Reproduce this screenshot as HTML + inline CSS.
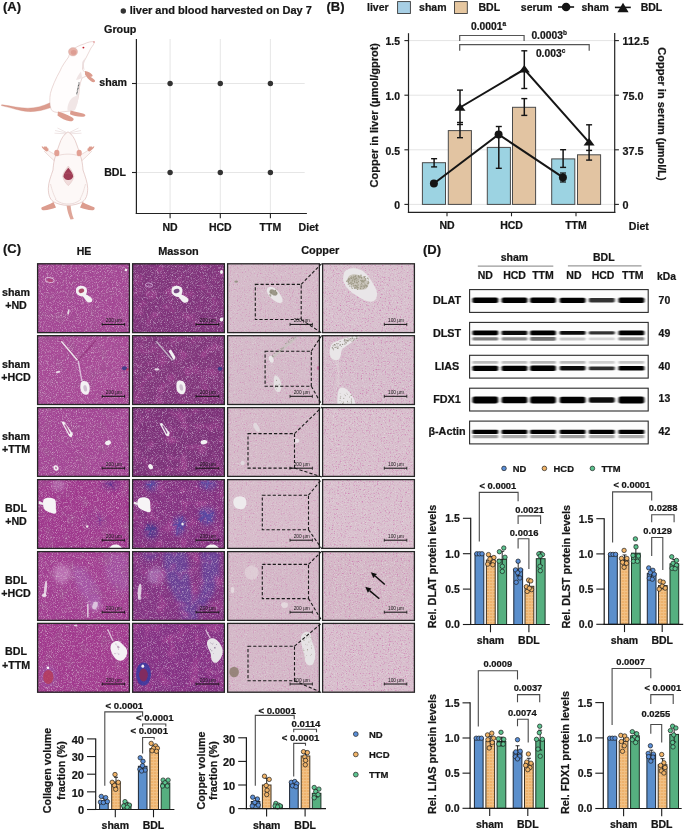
<!DOCTYPE html>
<html><head><meta charset="utf-8"><style>
html,body{margin:0;padding:0;background:#fff;width:685px;height:831px;overflow:hidden}
svg{display:block;will-change:transform}
text{font-family:"Liberation Sans",sans-serif} text[font-weight=bold]{stroke:#151515;stroke-width:0.22px;paint-order:stroke}
</style></head><body>
<svg width="685" height="831" viewBox="0 0 685 831">
<rect width="685" height="831" fill="#fff"/>
<text x="3" y="10.8" font-size="13" text-anchor="start" font-weight="bold" fill="#151515" >(A)</text>
<circle cx="123.3" cy="11" r="2.7" fill="#333"/>
<text x="129.7" y="14.4" font-size="11" text-anchor="start" font-weight="bold" fill="#151515" >liver and blood harvested on Day 7</text>
<text x="104" y="32.8" font-size="10.8" text-anchor="start" font-weight="bold" fill="#151515" >Group</text>
<line x1="170.1" y1="39" x2="170.1" y2="213.5" stroke="#e3e3e3" stroke-width="0.9" />
<line x1="220.3" y1="39" x2="220.3" y2="213.5" stroke="#e3e3e3" stroke-width="0.9" />
<line x1="270.4" y1="39" x2="270.4" y2="213.5" stroke="#e3e3e3" stroke-width="0.9" />
<line x1="136.4" y1="83.5" x2="304.7" y2="83.5" stroke="#e3e3e3" stroke-width="0.9" />
<line x1="136.4" y1="172.5" x2="304.7" y2="172.5" stroke="#e3e3e3" stroke-width="0.9" />
<line x1="136.4" y1="39" x2="136.4" y2="214.1" stroke="#222" stroke-width="1.2" />
<line x1="135.8" y1="213.5" x2="306.9" y2="213.5" stroke="#222" stroke-width="1.2" />
<line x1="132" y1="83.5" x2="136.4" y2="83.5" stroke="#222" stroke-width="1.1" />
<line x1="132" y1="172.5" x2="136.4" y2="172.5" stroke="#222" stroke-width="1.1" />
<line x1="170.1" y1="213.5" x2="170.1" y2="218.2" stroke="#222" stroke-width="1.1" />
<line x1="220.3" y1="213.5" x2="220.3" y2="218.2" stroke="#222" stroke-width="1.1" />
<line x1="270.4" y1="213.5" x2="270.4" y2="218.2" stroke="#222" stroke-width="1.1" />
<circle cx="170.1" cy="83.5" r="2.7" fill="#333"/>
<circle cx="170.1" cy="172.5" r="2.7" fill="#333"/>
<circle cx="220.3" cy="83.5" r="2.7" fill="#333"/>
<circle cx="220.3" cy="172.5" r="2.7" fill="#333"/>
<circle cx="270.4" cy="83.5" r="2.7" fill="#333"/>
<circle cx="270.4" cy="172.5" r="2.7" fill="#333"/>
<text x="127" y="86.3" font-size="10.6" text-anchor="end" font-weight="bold" fill="#151515" >sham</text>
<text x="126" y="175.8" font-size="10.6" text-anchor="end" font-weight="bold" fill="#151515" >BDL</text>
<text x="170.1" y="231" font-size="10.5" text-anchor="middle" font-weight="bold" fill="#151515" >ND</text>
<text x="220.3" y="231" font-size="10.5" text-anchor="middle" font-weight="bold" fill="#151515" >HCD</text>
<text x="270.4" y="231" font-size="10.5" text-anchor="middle" font-weight="bold" fill="#151515" >TTM</text>
<text x="298.6" y="231" font-size="10.6" text-anchor="start" font-weight="bold" fill="#151515" >Diet</text>
<path d="M51,107.5 C44,110 36,112 28,111.6 C20,111 12,108 1.5,105.6 C1,105 1.5,104.6 2.5,104.8 C12,106.2 19,108 27.5,108.2 C36,108.3 43,106 50,102.8 Z" fill="#dc9c8e" stroke="#cf8c7e" stroke-width="0.35"/>
<path d="M94.2,41.6 C91,41.5 88,42 84,44 C80,45 76,47 72,50 C70,53 69,55 68.6,57 C65,62 62,66 60,71 C56,78 52,87 50.4,93.4 C49.5,99 49.5,104 51.1,109.5 C53,112 56,112.5 58.4,112.4 L70,111 C73,109 75.5,106 76.5,103 C78,99 78.8,96 79.2,90 C79.5,86 80.5,82 82,78 C84,77 86,76.5 87.6,75 C86,73 83,71 82.5,69 C82.5,65 83.5,62 85,59.8 C87,56 89,52 91,48 C93,45.5 94.5,43.5 94.2,41.6 Z" fill="#fffdfd" stroke="#d6b2ae" stroke-width="0.5"/>
<path d="M78.5,95 C78.5,101 77,106 75,110 C72.5,111.5 69.5,111.5 67.5,110.5 C67,106 69,101 72,98 C74,96.5 76.5,95.5 78.5,95 Z" fill="#f1e6e6"/>
<path d="M81,71.5 C79,74 77,77 76,80 C78,80 80.5,79 82,77.5 Z" fill="#f0e4e4"/>
<path d="M85,58 C84,62 83.5,66 84.5,70 C83,69.5 82,66 82.3,62 Z" fill="#ecdede"/>
<ellipse cx="73" cy="51.8" rx="4.6" ry="4.2" fill="#e7b2a8" stroke="#d6b2ae" stroke-width="0.4"/>
<ellipse cx="73.6" cy="52.4" rx="2.7" ry="2.4" fill="#de9d93"/>
<circle cx="83.4" cy="47.6" r="0.95" fill="#c41f2c"/>
<circle cx="94" cy="42" r="0.8" fill="#e38c8c"/>
<path d="M85,71 C88,71.5 90.5,72.5 92,74.5 C93.5,76 92,77.5 90,76.5 C92,78 94,79 95,80.5 C95.6,82.3 93,82.8 91,81.3 C88.5,79.5 86.5,77 85,74.5 Z" fill="#dc9c8e"/>
<path d="M58,111.5 C62,112.5 67,114.5 71.5,117 C75,118.8 74,121.6 70,121.2 C65.5,120.8 61,118.5 57.5,115.5 Z" fill="#dc9c8e"/>
<path d="M70.5,110.5 C74,111.5 79,112.5 83,113.5 C86.8,114.5 86,117 81.5,116.8 C77,116.5 73,115.8 70,114.2 Z" fill="#dc9c8e"/>
<path d="M79.2,82.5 L76.6,95" stroke="#555" stroke-width="1.3" stroke-dasharray="0.8,0.6"/>
<path d="M55,130.5 L66.5,133 M57.5,128 L66.5,132.5 M81,130.5 L69.5,133 M78.5,128 L69.5,132.5 M54.5,133.2 L66,133.8 M81.5,133.2 L70,133.8" stroke="#dcc4c4" stroke-width="0.45" fill="none"/>
<path d="M56.5,155.5 C53,153.5 49.5,151.5 46.5,149.5 L44.5,151.5 C47.5,154.5 51,158 54.5,161 Z" fill="#fcf5f4" stroke="#d6b2ae" stroke-width="0.45"/>
<path d="M79.5,155.5 C83,153.5 86.5,151.5 89.5,149.5 L91.5,151.5 C88.5,154.5 85,158 81.5,161 Z" fill="#fcf5f4" stroke="#d6b2ae" stroke-width="0.45"/>
<path d="M46.5,151.5 C44,150 42,148.5 41.6,146.6 C42.6,146.2 43.5,146.8 44,147.8 C44,146.3 45,145.7 45.8,146.8 C46.5,146.2 47.4,147 47.4,148.3 C48.6,148 49,149 48,151 Z" fill="#dc9c8e"/>
<path d="M89.5,151.5 C92,150 94,148.5 94.4,146.6 C93.4,146.2 92.5,146.8 92,147.8 C92,146.3 91,145.7 90.2,146.8 C89.5,146.2 88.6,147 88.6,148.3 C87.4,148 87,149 88,151 Z" fill="#dc9c8e"/>
<path d="M53.5,202 C49.5,204.5 45,206 41.8,207.2 C40.6,208.5 41.8,210.5 44,210.3 C48,210 52.5,209 56,207.5 Z" fill="#dc9c8e"/>
<path d="M82.5,202 C86.5,204.5 91,206 94.2,207.2 C95.4,208.5 94.2,210.5 92,210.3 C88,210 83.5,209 80,207.5 Z" fill="#dc9c8e"/>
<path d="M66.6,205.5 C67.2,210.5 68.5,215 70.5,219.5 L73.8,219 C72,214.5 71,210 70.6,205.5 Z" fill="#dc9c8e" opacity="0.9"/>
<path d="M68,131.8 C64,134 61,139 59.5,144 C58,148 57,151 56,155 C54.5,158 53.5,163 53,170 C51,176 48.5,182 48.3,188.3 C48.3,195 50,199 53,201.5 C57,204 63,205.4 68,205.4 C73,205.4 79,204 83,201.5 C86,199 87.7,195 87.7,188.3 C87.5,182 85,176 83,170 C82.5,163 81.5,158 80,155 C79,151 78,148 76.5,144 C75,139 72,134 68,131.8 Z" fill="#fdf8f7" stroke="#d6b2ae" stroke-width="0.6"/>
<path d="M57.5,156 C62,153.5 74,153.5 78.5,156" stroke="#e8d4d2" stroke-width="0.8" fill="none"/>
<path d="M50.5,184 C52,190 54,196 56,199 M85.5,184 C84,190 82,196 80,199" stroke="#ead8d6" stroke-width="0.8" fill="none"/>
<path d="M55,199 C59,203 64,204 68,204 C72,204 77,203 81,199" stroke="#e6d2d0" stroke-width="0.8" fill="none"/>
<ellipse cx="56.8" cy="153" rx="2.6" ry="3.2" fill="#e2a094"/>
<ellipse cx="79.2" cy="153" rx="2.6" ry="3.2" fill="#e2a094"/>
<path d="M68.3,166 C71,169.5 73.9,173.5 73.9,176.5 C73,180.5 70.5,183.5 68.3,185.7 C66,183.5 63.5,180.5 62.7,176.5 C62.7,173.5 65.5,169.5 68.3,166 Z" fill="#f1dcdc" stroke="#d9b9b7" stroke-width="0.4"/>
<path d="M68.3,167.8 C70.8,170.8 73.2,174 73.2,176.8 C72.3,179 70.3,180.2 68.3,180 C66.3,180.2 64.3,179 63.4,176.8 C63.4,174 65.8,170.8 68.3,167.8 Z" fill="#9e3c54"/>
<path d="M65,174 C67,172.5 70,172.5 72,174.5" stroke="#b85a70" stroke-width="0.5" fill="none"/>
<text x="326.5" y="10.5" font-size="13" text-anchor="start" font-weight="bold" fill="#151515" >(B)</text>
<text x="367" y="10.8" font-size="10.5" text-anchor="start" font-weight="bold" fill="#151515" >liver</text>
<rect x="397.6" y="1.6" width="12.8" height="11.9" fill="#a7cfe5" stroke="#3a3a3a" stroke-width="0.9"/>
<text x="419.1" y="10.8" font-size="10.5" text-anchor="start" font-weight="bold" fill="#151515" >sham</text>
<rect x="454.5" y="1.6" width="12.8" height="11.9" fill="#e6c7a0" stroke="#3a3a3a" stroke-width="0.9"/>
<text x="478.5" y="10.8" font-size="10.5" text-anchor="start" font-weight="bold" fill="#151515" >BDL</text>
<text x="520.8" y="10.8" font-size="10.5" text-anchor="start" font-weight="bold" fill="#151515" >serum</text>
<line x1="558" y1="7" x2="574.1" y2="7" stroke="#151515" stroke-width="1.6" />
<circle cx="566.1" cy="7" r="4.3" fill="#151515"/>
<text x="581.4" y="10.8" font-size="10.5" text-anchor="start" font-weight="bold" fill="#151515" >sham</text>
<line x1="614.9" y1="7.4" x2="630.8" y2="7.4" stroke="#151515" stroke-width="1.6" />
<path d="M623,2.8 L628.6,12.2 L617.4,12.2 Z" fill="#151515"/>
<text x="640.7" y="10.6" font-size="10.5" text-anchor="start" font-weight="bold" fill="#151515" >BDL</text>
<line x1="408.5" y1="204.4" x2="614.7" y2="204.4" stroke="#e4e4e4" stroke-width="1.0" />
<line x1="408.5" y1="149.8" x2="614.7" y2="149.8" stroke="#e4e4e4" stroke-width="1.0" />
<line x1="408.5" y1="95.2" x2="614.7" y2="95.2" stroke="#e4e4e4" stroke-width="1.0" />
<line x1="408.5" y1="40.599999999999994" x2="614.7" y2="40.599999999999994" stroke="#e4e4e4" stroke-width="1.0" />
<line x1="408.5" y1="33.2" x2="408.5" y2="213" stroke="#222" stroke-width="1.2" />
<line x1="614.7" y1="33.1" x2="614.7" y2="213" stroke="#222" stroke-width="1.2" />
<line x1="407.9" y1="212.4" x2="615.3" y2="212.4" stroke="#222" stroke-width="1.2" />
<line x1="404.4" y1="204.4" x2="408.5" y2="204.4" stroke="#222" stroke-width="1.1" />
<line x1="614.7" y1="204.4" x2="618.9" y2="204.4" stroke="#222" stroke-width="1.1" />
<text x="400" y="209.20000000000002" font-size="10.4" text-anchor="end" font-weight="bold" fill="#151515" >0</text>
<text x="622.6" y="209.1" font-size="10.8" text-anchor="start" font-weight="bold" fill="#151515" >0</text>
<line x1="404.4" y1="149.8" x2="408.5" y2="149.8" stroke="#222" stroke-width="1.1" />
<line x1="614.7" y1="149.8" x2="618.9" y2="149.8" stroke="#222" stroke-width="1.1" />
<text x="400" y="154.60000000000002" font-size="10.4" text-anchor="end" font-weight="bold" fill="#151515" >0.5</text>
<text x="622.6" y="154.5" font-size="10.8" text-anchor="start" font-weight="bold" fill="#151515" >37.5</text>
<line x1="404.4" y1="95.2" x2="408.5" y2="95.2" stroke="#222" stroke-width="1.1" />
<line x1="614.7" y1="95.2" x2="618.9" y2="95.2" stroke="#222" stroke-width="1.1" />
<text x="400" y="100.0" font-size="10.4" text-anchor="end" font-weight="bold" fill="#151515" >1.0</text>
<text x="622.6" y="99.9" font-size="10.8" text-anchor="start" font-weight="bold" fill="#151515" >75.0</text>
<line x1="404.4" y1="40.599999999999994" x2="408.5" y2="40.599999999999994" stroke="#222" stroke-width="1.1" />
<line x1="614.7" y1="40.599999999999994" x2="618.9" y2="40.599999999999994" stroke="#222" stroke-width="1.1" />
<text x="400" y="45.39999999999999" font-size="10.4" text-anchor="end" font-weight="bold" fill="#151515" >1.5</text>
<text x="622.6" y="45.3" font-size="10.8" text-anchor="start" font-weight="bold" fill="#151515" >112.5</text>
<line x1="447" y1="212.4" x2="447" y2="216.3" stroke="#222" stroke-width="1.1" />
<text x="447" y="228.8" font-size="10.5" text-anchor="middle" font-weight="bold" fill="#151515" >ND</text>
<line x1="511.5" y1="212.4" x2="511.5" y2="216.3" stroke="#222" stroke-width="1.1" />
<text x="511.5" y="228.8" font-size="10.5" text-anchor="middle" font-weight="bold" fill="#151515" >HCD</text>
<line x1="576" y1="212.4" x2="576" y2="216.3" stroke="#222" stroke-width="1.1" />
<text x="576" y="228.8" font-size="10.5" text-anchor="middle" font-weight="bold" fill="#151515" >TTM</text>
<text x="628.8" y="229.5" font-size="10.6" text-anchor="start" font-weight="bold" fill="#151515" >Diet</text>
<text transform="translate(378.2,115.2) rotate(-90)" font-size="11" text-anchor="middle" font-weight="bold" fill="#151515">Copper in liver (µmol/gprot)</text>
<text transform="translate(657.5,47.3) rotate(90)" font-size="11" text-anchor="start" font-weight="bold" fill="#151515">Copper in serum (µmol/L)</text>
<rect x="422.4" y="162.7" width="23.1" height="41.70000000000002" fill="#9cd3e2" stroke="#4a4a4a" stroke-width="1"/>
<rect x="448.3" y="130.6" width="23.1" height="73.80000000000001" fill="#e2c4a2" stroke="#4a4a4a" stroke-width="1"/>
<rect x="487.3" y="147.4" width="23.1" height="57.0" fill="#9cd3e2" stroke="#4a4a4a" stroke-width="1"/>
<rect x="512.5" y="107.3" width="23.1" height="97.10000000000001" fill="#e2c4a2" stroke="#4a4a4a" stroke-width="1"/>
<rect x="551.7" y="158.9" width="23.1" height="45.5" fill="#9cd3e2" stroke="#4a4a4a" stroke-width="1"/>
<rect x="577.5" y="154.8" width="23.1" height="49.599999999999994" fill="#e2c4a2" stroke="#4a4a4a" stroke-width="1"/>
<line x1="434.1" y1="158.7" x2="434.1" y2="166.9" stroke="#151515" stroke-width="1.5" />
<line x1="431.1" y1="158.7" x2="437.1" y2="158.7" stroke="#151515" stroke-width="1.4" />
<line x1="431.1" y1="166.9" x2="437.1" y2="166.9" stroke="#151515" stroke-width="1.4" />
<line x1="460" y1="90.1" x2="460" y2="137.7" stroke="#151515" stroke-width="1.5" />
<line x1="457.0" y1="90.1" x2="463.0" y2="90.1" stroke="#151515" stroke-width="1.4" />
<line x1="457.0" y1="122.5" x2="463.0" y2="122.5" stroke="#151515" stroke-width="1.4" />
<line x1="457.0" y1="124.5" x2="463.0" y2="124.5" stroke="#151515" stroke-width="1.4" />
<line x1="457.0" y1="137.7" x2="463.0" y2="137.7" stroke="#151515" stroke-width="1.4" />
<line x1="498.8" y1="126.5" x2="498.8" y2="168.3" stroke="#151515" stroke-width="1.5" />
<line x1="495.8" y1="126.5" x2="501.8" y2="126.5" stroke="#151515" stroke-width="1.4" />
<line x1="495.8" y1="168.3" x2="501.8" y2="168.3" stroke="#151515" stroke-width="1.4" />
<line x1="524.3" y1="50.8" x2="524.3" y2="88.5" stroke="#151515" stroke-width="1.5" />
<line x1="521.3" y1="50.8" x2="527.3" y2="50.8" stroke="#151515" stroke-width="1.4" />
<line x1="521.3" y1="88.5" x2="527.3" y2="88.5" stroke="#151515" stroke-width="1.4" />
<line x1="524.3" y1="98.6" x2="524.3" y2="115.4" stroke="#151515" stroke-width="1.5" />
<line x1="521.3" y1="98.6" x2="527.3" y2="98.6" stroke="#151515" stroke-width="1.4" />
<line x1="521.3" y1="115.4" x2="527.3" y2="115.4" stroke="#151515" stroke-width="1.4" />
<line x1="563.1" y1="149.7" x2="563.1" y2="167.4" stroke="#151515" stroke-width="1.5" />
<line x1="560.1" y1="149.7" x2="566.1" y2="149.7" stroke="#151515" stroke-width="1.4" />
<line x1="560.1" y1="167.4" x2="566.1" y2="167.4" stroke="#151515" stroke-width="1.4" />
<line x1="589.1" y1="124.8" x2="589.1" y2="160.1" stroke="#151515" stroke-width="1.5" />
<line x1="586.1" y1="124.8" x2="592.1" y2="124.8" stroke="#151515" stroke-width="1.4" />
<line x1="586.1" y1="150.4" x2="592.1" y2="150.4" stroke="#151515" stroke-width="1.4" />
<line x1="586.1" y1="160.1" x2="592.1" y2="160.1" stroke="#151515" stroke-width="1.4" />
<polyline points="433.9,183.5 498.6,134.4 562.9,177.4" fill="none" stroke="#151515" stroke-width="2"/>
<polyline points="460,107.5 524.3,69.3 589.1,142.3" fill="none" stroke="#151515" stroke-width="2"/>
<circle cx="433.9" cy="183.5" r="4" fill="#151515"/>
<circle cx="498.6" cy="134.4" r="4" fill="#151515"/>
<circle cx="562.9" cy="177.4" r="4" fill="#151515"/>
<line x1="562.9" y1="173" x2="562.9" y2="182" stroke="#151515" stroke-width="1.4" />
<line x1="560" y1="173" x2="566" y2="173" stroke="#151515" stroke-width="1.2" />
<line x1="560" y1="182" x2="566" y2="182" stroke="#151515" stroke-width="1.2" />
<path d="M460,103.2 L465.5,110.8 L454.5,110.8 Z" fill="#151515"/>
<path d="M524.3,65.0 L529.8,72.6 L518.8,72.6 Z" fill="#151515"/>
<path d="M589.1,138.0 L594.6,145.6 L583.6,145.6 Z" fill="#151515"/>
<path d="M459.7,41 L459.7,35.5 L524.1,35.5 L524.1,41" fill="none" stroke="#555" stroke-width="1.2"/>
<path d="M459.7,50.7 L459.7,44.7 L589.2,44.7 L589.2,50.7" fill="none" stroke="#555" stroke-width="1.2"/>
<text x="471" y="29.7" font-size="10.3" text-anchor="start" font-weight="bold" fill="#151515" >0.0001<tspan font-size="6.5" dy="-4">a</tspan></text>
<text x="531.4" y="38.9" font-size="10.3" text-anchor="start" font-weight="bold" fill="#151515" >0.0003<tspan font-size="6.5" dy="-4">b</tspan></text>
<text x="535.9" y="57.3" font-size="10.3" text-anchor="start" font-weight="bold" fill="#151515" >0.003<tspan font-size="6.5" dy="-4">c</tspan></text>
<defs>
<filter id="tHE" x="0" y="0" width="1" height="1" color-interpolation-filters="sRGB">
<feTurbulence type="fractalNoise" baseFrequency="1.2" numOctaves="2" seed="3" result="t1"/>
<feColorMatrix in="t1" type="matrix" values="0 0 0 0 0.84  0 0 0 0 0.72  0 0 0 0 0.82  2.2 0 0 0 -1.06" result="w"/>
<feTurbulence type="fractalNoise" baseFrequency="1.0" numOctaves="2" seed="9" result="t2"/>
<feColorMatrix in="t2" type="matrix" values="0 0 0 0 0.40  0 0 0 0 0.26  0 0 0 0 0.48  0 2.2 0 0 -1.0" result="d"/>
<feTurbulence type="fractalNoise" baseFrequency="0.09" numOctaves="2" seed="21" result="t3"/>
<feColorMatrix in="t3" type="matrix" values="0 0 0 0 0.64  0 0 0 0 0.34  0 0 0 0 0.58  0 0 2.0 0 -1.0" result="m"/>
<feMerge><feMergeNode in="m"/><feMergeNode in="d"/><feMergeNode in="w"/></feMerge>
<feGaussianBlur stdDeviation="0.48"/>
</filter>
<filter id="tMA" x="0" y="0" width="1" height="1" color-interpolation-filters="sRGB">
<feTurbulence type="fractalNoise" baseFrequency="1.2" numOctaves="2" seed="4" result="t1"/>
<feColorMatrix in="t1" type="matrix" values="0 0 0 0 0.82  0 0 0 0 0.74  0 0 0 0 0.84  2.2 0 0 0 -1.08" result="w"/>
<feTurbulence type="fractalNoise" baseFrequency="1.0" numOctaves="2" seed="12" result="t2"/>
<feColorMatrix in="t2" type="matrix" values="0 0 0 0 0.30  0 0 0 0 0.10  0 0 0 0 0.36  0 2.2 0 0 -1.0" result="d"/>
<feTurbulence type="fractalNoise" baseFrequency="0.09" numOctaves="2" seed="23" result="t3"/>
<feColorMatrix in="t3" type="matrix" values="0 0 0 0 0.72  0 0 0 0 0.3  0 0 0 0 0.62  0 0 2.0 0 -1.0" result="m"/>
<feMerge><feMergeNode in="m"/><feMergeNode in="d"/><feMergeNode in="w"/></feMerge>
<feGaussianBlur stdDeviation="0.48"/>
</filter>
<filter id="tCU" x="0" y="0" width="1" height="1" color-interpolation-filters="sRGB">
<feTurbulence type="fractalNoise" baseFrequency="0.9" numOctaves="2" seed="5" result="t1"/>
<feColorMatrix in="t1" type="matrix" values="0 0 0 0 0.9  0 0 0 0 0.86  0 0 0 0 0.88  3.0 0 0 0 -1.6" result="w"/>
<feTurbulence type="fractalNoise" baseFrequency="0.75" numOctaves="2" seed="15" result="t2"/>
<feColorMatrix in="t2" type="matrix" values="0 0 0 0 0.80  0 0 0 0 0.44  0 0 0 0 0.68  0 3.2 0 0 -1.78" result="d"/>
<feMerge><feMergeNode in="d"/><feMergeNode in="w"/></feMerge>
<feGaussianBlur stdDeviation="0.35"/>
</filter>
<filter id="bl"><feGaussianBlur stdDeviation="0.45"/></filter>
<filter id="bl2" x="-30%" y="-30%" width="160%" height="160%"><feGaussianBlur stdDeviation="2.2"/></filter>
</defs>
<clipPath id="cp00"><rect x="37" y="263.2" width="93" height="70"/></clipPath>
<g clip-path="url(#cp00)">
<rect x="37" y="263.2" width="93" height="70" fill="#ab4898"/>
<rect x="37" y="263.2" width="93" height="70" filter="url(#tHE)" opacity="0.95"/>
<g filter="url(#bl)"><path d="M76,289 C77,285.5 82,285 85,286.8 C87.5,288.5 87.5,292 86,294.5 C88,295.5 91.5,297 92.3,299.5 C92.8,302 89.5,303 87.5,302 C85.5,300.8 84.5,298 83,296.5 C80,296.5 77,295 76,292.5 Z" fill="#f3f1f3" opacity="1" />
<ellipse cx="81.4" cy="290.8" rx="2.8" ry="2.2" fill="#a13a5a" opacity="0.9" transform="rotate(-20 81.4 290.8)" />
<ellipse cx="49.7" cy="280" rx="4.6" ry="2.4" fill="none" opacity="0.9" transform="rotate(10 49.7 280)" stroke="#e6c6de" stroke-width="0.9"/>
<ellipse cx="50" cy="280.5" rx="3" ry="1.5" fill="#b04070" opacity="0.7" transform="rotate(10 50 280.5)" />
<ellipse cx="68.5" cy="312" rx="0.9" ry="3" fill="#eee" opacity="0.9" transform="rotate(10 68.5 312)" />
<ellipse cx="126" cy="270" rx="1.2" ry="1.2" fill="#f2f2f2" opacity="1" transform="rotate(0 126 270)" /></g>
<line x1="102.2" y1="324.4" x2="124.6" y2="324.4" stroke="#111" stroke-width="1.0" />
<line x1="102.2" y1="322.9" x2="102.2" y2="325.9" stroke="#111" stroke-width="0.8" />
<line x1="124.6" y1="322.9" x2="124.6" y2="325.9" stroke="#111" stroke-width="0.8" />
<text x="113.9" y="322.2" font-size="4.8" text-anchor="middle" fill="#1a1a1a" font-weight="normal">200 µm</text>
</g>
<rect x="37.6" y="263.8" width="91.8" height="68.8" fill="none" stroke="#262626" stroke-width="1.3"/>
<clipPath id="cp01"><rect x="132" y="263.2" width="93" height="70"/></clipPath>
<g clip-path="url(#cp01)">
<rect x="132" y="263.2" width="93" height="70" fill="#86387f"/>
<rect x="132" y="263.2" width="93" height="70" filter="url(#tMA)" opacity="0.95"/>
<g filter="url(#bl)"><path d="M171.5,289 C172.5,285.5 177.5,285 180.5,286.8 C183,288.5 183,292 181.5,294.5 C183.5,295.5 187.5,297 188.5,299.5 C189,302 185.5,303.5 183.5,302.5 C181.5,301.3 180,298.5 178.5,297 C175.5,297 172.5,295 171.5,292.5 Z" fill="#f3f1f3" opacity="1" />
<ellipse cx="176.6" cy="291" rx="3" ry="2.1" fill="#6a3a78" opacity="0.9" transform="rotate(-20 176.6 291)" />
<ellipse cx="149" cy="285" rx="3.5" ry="2" fill="none" opacity="0.9" transform="rotate(10 149 285)" stroke="#d8b8e0" stroke-width="0.8"/>
<ellipse cx="221.5" cy="272" rx="1.5" ry="2" fill="#f0f0f0" opacity="1" transform="rotate(0 221.5 272)" />
<ellipse cx="221.5" cy="319.5" rx="1.8" ry="2" fill="#f0f0f0" opacity="1" transform="rotate(0 221.5 319.5)" /></g>
<line x1="196.0" y1="324.4" x2="218.8" y2="324.4" stroke="#111" stroke-width="1.0" />
<line x1="196.0" y1="322.9" x2="196.0" y2="325.9" stroke="#111" stroke-width="0.8" />
<line x1="218.8" y1="322.9" x2="218.8" y2="325.9" stroke="#111" stroke-width="0.8" />
<text x="207.9" y="322.2" font-size="4.8" text-anchor="middle" fill="#1a1a1a" font-weight="normal">200 µm</text>
</g>
<rect x="132.6" y="263.8" width="91.8" height="68.8" fill="none" stroke="#262626" stroke-width="1.3"/>
<clipPath id="cp02"><rect x="227" y="263.2" width="93" height="70"/></clipPath>
<g clip-path="url(#cp02)">
<rect x="227" y="263.2" width="93" height="70" fill="#d5bcca"/>
<rect x="227" y="263.2" width="93" height="70" filter="url(#tCU)" opacity="0.55"/>
<g filter="url(#bl)"><path d="M267,289 C268,286.5 272,286.5 275,288.5 C278,290.5 281,295 282.5,299 C283.5,302.5 280.5,303.8 277.5,302.5 C274,301 270,297.5 268,294.5 C267,292.5 266.6,290.5 267,289 Z" fill="#e9e6e8" opacity="1" />
<ellipse cx="273.5" cy="292.5" rx="4.3" ry="2.6" fill="#8e8a78" opacity="0.85" transform="rotate(25 273.5 292.5)" />
<circle cx="270.2" cy="294.9" r="0.58" fill="#8a8672"/>
<circle cx="271.3" cy="292.5" r="0.48" fill="#8a8672"/>
<circle cx="274.9" cy="294.5" r="0.38" fill="#8a8672"/>
<circle cx="269.3" cy="294.9" r="0.48" fill="#8a8672"/>
<circle cx="275.9" cy="289.0" r="0.48" fill="#8a8672"/>
<circle cx="275.5" cy="290.6" r="0.63" fill="#8a8672"/>
<circle cx="277.1" cy="289.2" r="0.36" fill="#8a8672"/>
<circle cx="273.9" cy="295.6" r="0.46" fill="#8a8672"/>
<circle cx="270.9" cy="292.0" r="0.36" fill="#8a8672"/>
<circle cx="271.0" cy="292.1" r="0.50" fill="#8a8672"/>
<circle cx="271.1" cy="290.6" r="0.42" fill="#8a8672"/>
<circle cx="273.1" cy="291.0" r="0.36" fill="#8a8672"/>
<circle cx="276.5" cy="292.9" r="0.54" fill="#8a8672"/>
<circle cx="270.7" cy="295.9" r="0.61" fill="#8a8672"/>
<ellipse cx="236.2" cy="281.6" rx="1.8" ry="1.2" fill="#8a8a78" opacity="0.8" transform="rotate(0 236.2 281.6)" /></g>
<line x1="290.0" y1="324.4" x2="312.4" y2="324.4" stroke="#111" stroke-width="1.0" />
<line x1="290.0" y1="322.9" x2="290.0" y2="325.9" stroke="#111" stroke-width="0.8" />
<line x1="312.4" y1="322.9" x2="312.4" y2="325.9" stroke="#111" stroke-width="0.8" />
<text x="301.7" y="322.2" font-size="4.8" text-anchor="middle" fill="#1a1a1a" font-weight="normal">200 µm</text>
</g>
<rect x="227.6" y="263.8" width="91.8" height="68.8" fill="none" stroke="#262626" stroke-width="1.3"/>
<clipPath id="cp03"><rect x="322" y="263.2" width="93" height="70"/></clipPath>
<g clip-path="url(#cp03)">
<rect x="322" y="263.2" width="93" height="70" fill="#d8c1ce"/>
<rect x="322" y="263.2" width="93" height="70" filter="url(#tCU)" opacity="0.8"/>
<g filter="url(#bl)"><path d="M344,273 C346,268 354,267 361,270 C367,273 371,280 375,287 C378,292 378,299 373,301.5 C367,302.5 360,298 354,294 C348,290 343.5,284 343,279 Z" fill="#e9e6e8" opacity="1" />
<ellipse cx="358" cy="282" rx="11" ry="7" fill="#c0bcae" opacity="0.8" transform="rotate(25 358 282)" />
<circle cx="366.1" cy="285.8" r="0.66" fill="#9c9884"/>
<circle cx="353.4" cy="283.7" r="0.64" fill="#9c9884"/>
<circle cx="359.9" cy="276.5" r="0.58" fill="#9c9884"/>
<circle cx="355.4" cy="285.6" r="0.78" fill="#9c9884"/>
<circle cx="368.8" cy="282.7" r="0.58" fill="#9c9884"/>
<circle cx="346.7" cy="281.4" r="0.53" fill="#9c9884"/>
<circle cx="355.1" cy="288.3" r="0.61" fill="#9c9884"/>
<circle cx="359.5" cy="277.8" r="0.43" fill="#9c9884"/>
<circle cx="353.8" cy="276.2" r="0.60" fill="#9c9884"/>
<circle cx="365.1" cy="285.8" r="0.75" fill="#9c9884"/>
<circle cx="364.3" cy="286.6" r="0.55" fill="#9c9884"/>
<circle cx="349.9" cy="286.1" r="0.68" fill="#9c9884"/>
<circle cx="357.1" cy="282.5" r="0.60" fill="#9c9884"/>
<circle cx="368.2" cy="282.0" r="0.72" fill="#9c9884"/>
<circle cx="354.5" cy="288.1" r="0.74" fill="#9c9884"/>
<circle cx="357.1" cy="283.1" r="0.75" fill="#9c9884"/>
<circle cx="363.4" cy="281.8" r="0.50" fill="#9c9884"/>
<circle cx="353.8" cy="285.2" r="0.48" fill="#9c9884"/>
<circle cx="367.8" cy="278.3" r="0.75" fill="#9c9884"/>
<circle cx="362.9" cy="282.1" r="0.61" fill="#9c9884"/>
<circle cx="361.6" cy="283.4" r="0.53" fill="#9c9884"/>
<circle cx="351.0" cy="282.2" r="0.76" fill="#9c9884"/>
<circle cx="361.0" cy="275.2" r="0.72" fill="#9c9884"/>
<circle cx="363.4" cy="288.5" r="0.49" fill="#9c9884"/>
<circle cx="361.7" cy="278.4" r="0.50" fill="#9c9884"/>
<circle cx="358.5" cy="287.7" r="0.51" fill="#9c9884"/>
<circle cx="356.2" cy="285.5" r="0.43" fill="#9c9884"/>
<circle cx="354.7" cy="276.8" r="0.66" fill="#9c9884"/>
<circle cx="365.5" cy="276.5" r="0.49" fill="#9c9884"/>
<circle cx="362.6" cy="280.2" r="0.44" fill="#9c9884"/>
<circle cx="360.8" cy="285.9" r="0.46" fill="#9c9884"/>
<circle cx="356.8" cy="286.3" r="0.69" fill="#9c9884"/>
<circle cx="366.7" cy="285.3" r="0.59" fill="#9c9884"/>
<circle cx="351.4" cy="284.6" r="0.53" fill="#9c9884"/>
<circle cx="348.4" cy="281.2" r="0.73" fill="#9c9884"/>
<circle cx="349.1" cy="283.4" r="0.56" fill="#9c9884"/>
<circle cx="358.4" cy="276.3" r="0.77" fill="#9c9884"/>
<circle cx="352.2" cy="283.7" r="0.57" fill="#9c9884"/>
<circle cx="348.3" cy="284.2" r="0.60" fill="#9c9884"/>
<circle cx="356.7" cy="278.0" r="0.63" fill="#9c9884"/>
<circle cx="361.0" cy="286.8" r="0.68" fill="#9c9884"/>
<circle cx="352.2" cy="280.8" r="0.61" fill="#9c9884"/>
<circle cx="355.8" cy="275.8" r="0.68" fill="#9c9884"/>
<circle cx="350.4" cy="277.7" r="0.50" fill="#9c9884"/>
<circle cx="358.5" cy="281.4" r="0.53" fill="#9c9884"/>
<circle cx="361.4" cy="277.4" r="0.75" fill="#9c9884"/>
<circle cx="356.4" cy="282.2" r="0.63" fill="#9c9884"/>
<circle cx="347.2" cy="280.7" r="0.61" fill="#9c9884"/>
<circle cx="365.3" cy="279.9" r="0.61" fill="#9c9884"/>
<circle cx="368.1" cy="283.8" r="0.52" fill="#9c9884"/>
<circle cx="348.4" cy="278.9" r="0.72" fill="#9c9884"/>
<circle cx="356.8" cy="280.6" r="0.59" fill="#9c9884"/>
<circle cx="351.0" cy="283.4" r="0.45" fill="#9c9884"/>
<circle cx="352.8" cy="280.0" r="0.76" fill="#9c9884"/>
<circle cx="350.6" cy="283.1" r="0.56" fill="#9c9884"/>
<circle cx="357.1" cy="286.1" r="0.56" fill="#9c9884"/>
<circle cx="361.8" cy="286.4" r="0.68" fill="#9c9884"/>
<circle cx="358.0" cy="279.7" r="0.58" fill="#9c9884"/>
<circle cx="365.2" cy="278.3" r="0.61" fill="#9c9884"/>
<circle cx="357.5" cy="289.3" r="0.71" fill="#9c9884"/>
<circle cx="353.1" cy="277.7" r="0.60" fill="#9c9884"/>
<circle cx="352.2" cy="280.8" r="0.66" fill="#9c9884"/>
<circle cx="368.0" cy="283.4" r="0.71" fill="#9c9884"/>
<circle cx="348.3" cy="279.7" r="0.78" fill="#9c9884"/>
<circle cx="349.5" cy="280.7" r="0.44" fill="#9c9884"/>
<circle cx="349.1" cy="278.7" r="0.50" fill="#9c9884"/>
<circle cx="362.1" cy="284.9" r="0.58" fill="#9c9884"/>
<circle cx="358.6" cy="275.8" r="0.61" fill="#9c9884"/>
<circle cx="348.3" cy="282.3" r="0.68" fill="#9c9884"/>
<circle cx="352.2" cy="288.3" r="0.59" fill="#9c9884"/>
<circle cx="362.9" cy="280.5" r="0.78" fill="#9c9884"/>
<circle cx="364.8" cy="283.2" r="0.47" fill="#9c9884"/>
<circle cx="360.3" cy="288.1" r="0.48" fill="#9c9884"/>
<circle cx="358.2" cy="281.7" r="0.57" fill="#9c9884"/>
<circle cx="362.9" cy="281.6" r="0.77" fill="#9c9884"/>
<circle cx="353.9" cy="285.9" r="0.66" fill="#9c9884"/>
<circle cx="364.3" cy="287.6" r="0.50" fill="#9c9884"/>
<circle cx="360.9" cy="280.4" r="0.66" fill="#9c9884"/>
<circle cx="363.1" cy="288.1" r="0.65" fill="#9c9884"/>
<circle cx="360.6" cy="288.5" r="0.74" fill="#9c9884"/>
<circle cx="364.4" cy="277.2" r="0.69" fill="#9c9884"/>
<circle cx="360.1" cy="277.1" r="0.71" fill="#9c9884"/>
<circle cx="349.3" cy="283.8" r="0.58" fill="#9c9884"/>
<circle cx="352.1" cy="283.1" r="0.59" fill="#9c9884"/>
<circle cx="357.7" cy="287.4" r="0.66" fill="#9c9884"/>
<circle cx="364.1" cy="281.8" r="0.66" fill="#9c9884"/>
<circle cx="354.0" cy="278.3" r="0.60" fill="#9c9884"/>
<circle cx="364.1" cy="276.8" r="0.69" fill="#9c9884"/>
<circle cx="364.8" cy="280.5" r="0.66" fill="#9c9884"/>
<circle cx="364.9" cy="287.8" r="0.47" fill="#9c9884"/>
<circle cx="349.9" cy="280.1" r="0.59" fill="#9c9884"/>
<circle cx="354.8" cy="282.6" r="0.56" fill="#9c9884"/>
<circle cx="356.6" cy="287.9" r="0.53" fill="#9c9884"/>
<circle cx="361.6" cy="281.7" r="0.61" fill="#9c9884"/>
<circle cx="365.8" cy="278.9" r="0.65" fill="#9c9884"/>
<circle cx="365.1" cy="284.5" r="0.56" fill="#9c9884"/>
<circle cx="361.2" cy="280.3" r="0.61" fill="#9c9884"/>
<circle cx="366.4" cy="286.8" r="0.65" fill="#9c9884"/>
<circle cx="353.4" cy="277.7" r="0.58" fill="#9c9884"/>
<circle cx="351.6" cy="278.4" r="0.76" fill="#9c9884"/>
<circle cx="355.1" cy="279.8" r="0.53" fill="#9c9884"/>
<circle cx="347.9" cy="281.3" r="0.48" fill="#9c9884"/>
<circle cx="356.6" cy="278.7" r="0.74" fill="#9c9884"/>
<circle cx="368.1" cy="281.1" r="0.65" fill="#9c9884"/>
<circle cx="368.3" cy="279.2" r="0.46" fill="#9c9884"/>
<circle cx="351.7" cy="277.0" r="0.66" fill="#9c9884"/>
<circle cx="355.0" cy="279.7" r="0.71" fill="#9c9884"/>
<circle cx="351.6" cy="286.9" r="0.65" fill="#9c9884"/>
<circle cx="355.6" cy="287.2" r="0.54" fill="#9c9884"/>
<circle cx="358.1" cy="285.0" r="0.76" fill="#9c9884"/>
<circle cx="363.8" cy="286.0" r="0.73" fill="#9c9884"/>
<circle cx="360.9" cy="284.7" r="0.55" fill="#9c9884"/>
<circle cx="355.5" cy="276.8" r="0.76" fill="#9c9884"/>
<circle cx="354.5" cy="281.6" r="0.74" fill="#9c9884"/>
<circle cx="354.4" cy="279.7" r="0.75" fill="#9c9884"/>
<circle cx="367.2" cy="286.2" r="0.58" fill="#9c9884"/>
<circle cx="359.0" cy="277.8" r="0.72" fill="#9c9884"/>
<circle cx="355.4" cy="278.6" r="0.65" fill="#9c9884"/>
<circle cx="349.6" cy="279.1" r="0.75" fill="#9c9884"/>
<circle cx="350.9" cy="278.0" r="0.57" fill="#9c9884"/></g>
<line x1="384.3" y1="324.4" x2="406.8" y2="324.4" stroke="#111" stroke-width="1.0" />
<line x1="384.3" y1="322.9" x2="384.3" y2="325.9" stroke="#111" stroke-width="0.8" />
<line x1="406.8" y1="322.9" x2="406.8" y2="325.9" stroke="#111" stroke-width="0.8" />
<text x="396.05" y="322.2" font-size="4.8" text-anchor="middle" fill="#1a1a1a" font-weight="normal">100 µm</text>
</g>
<rect x="322.6" y="263.8" width="91.8" height="68.8" fill="none" stroke="#262626" stroke-width="1.3"/>
<clipPath id="cp10"><rect x="37" y="335.1" width="93" height="70"/></clipPath>
<g clip-path="url(#cp10)">
<rect x="37" y="335.1" width="93" height="70" fill="#ae4b9a"/>
<rect x="37" y="335.1" width="93" height="70" filter="url(#tHE)" opacity="0.95"/>
<g filter="url(#bl)"><path d="M58.5,340 L60.5,339.5 L79,359.5 L77.5,362 Z" fill="#8a2c72" opacity="0.55" />
<path d="M95.5,339.5 L97,340.5 L79,361 L77.5,360 Z" fill="#8a2c72" opacity="0.55" />
<path d="M60.5,341.5 L62,341 L78,359.8 L77,361 Z" fill="#f2ecf2" opacity="0.95" />
<path d="M77.5,361 L79,360.8 L82.5,381 L81.2,381 Z" fill="#e8d6ea" opacity="0.8" />
<path d="M81,382.5 C82.5,380.5 86.5,380.5 88.5,383.5 C90.5,387.5 90,392 87.5,394.5 C85,395.5 82,394 81,391 C80,388 80.1,385 81,382.5 Z" fill="#f3f1f3" opacity="1" />
<ellipse cx="85.2" cy="388.3" rx="1.8" ry="3.2" fill="#cbb8cc" opacity="0.9" transform="rotate(-10 85.2 388.3)" />
<ellipse cx="58" cy="372" rx="2.4" ry="1.1" fill="#efe6ef" opacity="0.9" transform="rotate(-10 58 372)" />
<ellipse cx="124.5" cy="368.2" rx="2.6" ry="2.0" fill="#3a3a86" opacity="0.9" transform="rotate(0 124.5 368.2)" />
<ellipse cx="127.5" cy="369.5" rx="1.2" ry="1.2" fill="#c03050" opacity="0.8" transform="rotate(0 127.5 369.5)" /></g>
<line x1="102.2" y1="396.3" x2="124.6" y2="396.3" stroke="#111" stroke-width="1.0" />
<line x1="102.2" y1="394.8" x2="102.2" y2="397.8" stroke="#111" stroke-width="0.8" />
<line x1="124.6" y1="394.8" x2="124.6" y2="397.8" stroke="#111" stroke-width="0.8" />
<text x="113.9" y="394.1" font-size="4.8" text-anchor="middle" fill="#1a1a1a" font-weight="normal">200 µm</text>
</g>
<rect x="37.6" y="335.70000000000005" width="91.8" height="68.8" fill="none" stroke="#262626" stroke-width="1.3"/>
<clipPath id="cp11"><rect x="132" y="335.1" width="93" height="70"/></clipPath>
<g clip-path="url(#cp11)">
<rect x="132" y="335.1" width="93" height="70" fill="#87397f"/>
<rect x="132" y="335.1" width="93" height="70" filter="url(#tMA)" opacity="0.95"/>
<g filter="url(#bl)"><path d="M153.5,340 L155.5,339.5 L174,359.5 L172.5,362 Z" fill="#5a2a62" opacity="0.5" />
<path d="M155.5,341.5 L157,341 L173,359.8 L172,361 Z" fill="#e8e0ea" opacity="0.7" />
<path d="M168.5,351 L171,349.5 L175.5,357 L174,360.5 Z" fill="#f3f1f3" opacity="1" />
<path d="M177,382 C178.5,380 182.5,380 184.5,383 C186.5,387 186,392 183.5,394 C181,395 178,393.5 177,390.5 C176,387.5 176.1,384.5 177,382 Z" fill="#f3f1f3" opacity="1" />
<ellipse cx="181.3" cy="387.5" rx="1.8" ry="3.2" fill="#cbb8cc" opacity="0.9" transform="rotate(-10 181.3 387.5)" />
<ellipse cx="156.9" cy="369.4" rx="2.6" ry="1.1" fill="#efe6ef" opacity="0.9" transform="rotate(0 156.9 369.4)" />
<ellipse cx="220" cy="368.7" rx="2.2" ry="2" fill="#3a3a86" opacity="1" transform="rotate(0 220 368.7)" /></g>
<line x1="196.0" y1="396.3" x2="218.8" y2="396.3" stroke="#111" stroke-width="1.0" />
<line x1="196.0" y1="394.8" x2="196.0" y2="397.8" stroke="#111" stroke-width="0.8" />
<line x1="218.8" y1="394.8" x2="218.8" y2="397.8" stroke="#111" stroke-width="0.8" />
<text x="207.9" y="394.1" font-size="4.8" text-anchor="middle" fill="#1a1a1a" font-weight="normal">200 µm</text>
</g>
<rect x="132.6" y="335.70000000000005" width="91.8" height="68.8" fill="none" stroke="#262626" stroke-width="1.3"/>
<clipPath id="cp12"><rect x="227" y="335.1" width="93" height="70"/></clipPath>
<g clip-path="url(#cp12)">
<rect x="227" y="335.1" width="93" height="70" fill="#d4bbc9"/>
<rect x="227" y="335.1" width="93" height="70" filter="url(#tCU)" opacity="0.55"/>
<g filter="url(#bl)"><path d="M296,336 L297.8,337.8 L272,359.5 L270,357.8 Z" fill="#c8c2c0" opacity="0.85" />
<circle cx="282.9" cy="348.2" r="0.56" fill="#8f8a80"/>
<circle cx="283.2" cy="347.2" r="0.47" fill="#8f8a80"/>
<circle cx="274.2" cy="353.2" r="0.50" fill="#8f8a80"/>
<circle cx="273.0" cy="356.6" r="0.58" fill="#8f8a80"/>
<circle cx="291.1" cy="340.6" r="0.47" fill="#8f8a80"/>
<circle cx="289.6" cy="339.6" r="0.49" fill="#8f8a80"/>
<circle cx="272.9" cy="356.3" r="0.38" fill="#8f8a80"/>
<circle cx="288.9" cy="342.1" r="0.54" fill="#8f8a80"/>
<circle cx="286.3" cy="342.9" r="0.36" fill="#8f8a80"/>
<circle cx="280.9" cy="348.4" r="0.35" fill="#8f8a80"/>
<circle cx="272.4" cy="355.2" r="0.50" fill="#8f8a80"/>
<circle cx="295.1" cy="337.4" r="0.49" fill="#8f8a80"/>
<circle cx="280.4" cy="350.7" r="0.56" fill="#8f8a80"/>
<circle cx="281.2" cy="348.7" r="0.48" fill="#8f8a80"/>
<circle cx="279.2" cy="350.6" r="0.37" fill="#8f8a80"/>
<circle cx="288.0" cy="341.0" r="0.43" fill="#8f8a80"/>
<circle cx="286.0" cy="343.3" r="0.35" fill="#8f8a80"/>
<circle cx="281.9" cy="349.5" r="0.45" fill="#8f8a80"/>
<circle cx="292.9" cy="337.8" r="0.51" fill="#8f8a80"/>
<circle cx="285.7" cy="343.2" r="0.53" fill="#8f8a80"/>
<circle cx="288.4" cy="341.0" r="0.44" fill="#8f8a80"/>
<circle cx="280.3" cy="350.9" r="0.46" fill="#8f8a80"/>
<circle cx="293.7" cy="338.7" r="0.57" fill="#8f8a80"/>
<circle cx="276.9" cy="351.4" r="0.54" fill="#8f8a80"/>
<circle cx="291.4" cy="338.3" r="0.53" fill="#8f8a80"/>
<path d="M249,335 L254,339 L253,340 L248,336 Z" fill="#d0cccc" opacity="0.7" />
<ellipse cx="271.2" cy="359.3" rx="2.2" ry="3.6" fill="#e9e6e8" opacity="1" transform="rotate(-20 271.2 359.3)" />
<path d="M274.5,376 C276.5,374.5 279,377 280.5,381 C282,385.5 281.5,390 279.5,392 C277,393 274.5,390 274,386.5 C273.5,382.5 273.5,378 274.5,376 Z" fill="#e4e0e2" opacity="1" />
<circle cx="276.2" cy="384.9" r="0.41" fill="#9a9488"/>
<circle cx="278.0" cy="385.6" r="0.33" fill="#9a9488"/>
<circle cx="275.1" cy="387.5" r="0.39" fill="#9a9488"/>
<circle cx="276.2" cy="389.0" r="0.44" fill="#9a9488"/>
<circle cx="279.2" cy="384.3" r="0.49" fill="#9a9488"/>
<circle cx="275.8" cy="385.7" r="0.55" fill="#9a9488"/>
<circle cx="277.6" cy="386.7" r="0.50" fill="#9a9488"/>
<circle cx="275.3" cy="386.8" r="0.47" fill="#9a9488"/>
<circle cx="276.5" cy="380.3" r="0.55" fill="#9a9488"/>
<circle cx="277.4" cy="386.5" r="0.55" fill="#9a9488"/>
<ellipse cx="318.5" cy="368" rx="1.8" ry="2" fill="#c86aa0" opacity="0.8" transform="rotate(0 318.5 368)" /></g>
<line x1="290.0" y1="396.3" x2="312.4" y2="396.3" stroke="#111" stroke-width="1.0" />
<line x1="290.0" y1="394.8" x2="290.0" y2="397.8" stroke="#111" stroke-width="0.8" />
<line x1="312.4" y1="394.8" x2="312.4" y2="397.8" stroke="#111" stroke-width="0.8" />
<text x="301.7" y="394.1" font-size="4.8" text-anchor="middle" fill="#1a1a1a" font-weight="normal">200 µm</text>
</g>
<rect x="227.6" y="335.70000000000005" width="91.8" height="68.8" fill="none" stroke="#262626" stroke-width="1.3"/>
<clipPath id="cp13"><rect x="322" y="335.1" width="93" height="70"/></clipPath>
<g clip-path="url(#cp13)">
<rect x="322" y="335.1" width="93" height="70" fill="#d6becc"/>
<rect x="322" y="335.1" width="93" height="70" filter="url(#tCU)" opacity="0.8"/>
<g filter="url(#bl)"><path d="M357,335 L359,337 C353,341.5 347,345.5 342,349 C341,353 341,357 339,359.5 C336,361 332,360 330.5,357 C329,352.5 329.5,347.5 331.5,344.5 C334,341.5 339.5,340 345.5,338 Z" fill="#e9e6e8" opacity="1" />
<circle cx="351.9" cy="339.1" r="0.51" fill="#8f8a7e"/>
<circle cx="334.3" cy="344.5" r="0.55" fill="#8f8a7e"/>
<circle cx="346.2" cy="340.2" r="0.62" fill="#8f8a7e"/>
<circle cx="342.8" cy="344.4" r="0.48" fill="#8f8a7e"/>
<circle cx="353.1" cy="336.6" r="0.36" fill="#8f8a7e"/>
<circle cx="348.3" cy="339.9" r="0.51" fill="#8f8a7e"/>
<circle cx="344.3" cy="340.8" r="0.65" fill="#8f8a7e"/>
<circle cx="337.3" cy="344.9" r="0.43" fill="#8f8a7e"/>
<circle cx="341.3" cy="346.5" r="0.45" fill="#8f8a7e"/>
<circle cx="338.0" cy="346.7" r="0.53" fill="#8f8a7e"/>
<circle cx="333.1" cy="345.8" r="0.62" fill="#8f8a7e"/>
<circle cx="357.0" cy="336.3" r="0.44" fill="#8f8a7e"/>
<circle cx="349.6" cy="338.1" r="0.36" fill="#8f8a7e"/>
<circle cx="344.8" cy="339.5" r="0.65" fill="#8f8a7e"/>
<circle cx="338.0" cy="348.2" r="0.39" fill="#8f8a7e"/>
<circle cx="333.3" cy="349.0" r="0.52" fill="#8f8a7e"/>
<circle cx="337.5" cy="348.2" r="0.62" fill="#8f8a7e"/>
<circle cx="349.8" cy="339.8" r="0.63" fill="#8f8a7e"/>
<circle cx="356.9" cy="337.0" r="0.64" fill="#8f8a7e"/>
<circle cx="333.2" cy="348.6" r="0.39" fill="#8f8a7e"/>
<circle cx="356.0" cy="336.2" r="0.61" fill="#8f8a7e"/>
<circle cx="335.0" cy="347.3" r="0.58" fill="#8f8a7e"/>
<circle cx="354.8" cy="338.8" r="0.55" fill="#8f8a7e"/>
<circle cx="347.8" cy="337.9" r="0.46" fill="#8f8a7e"/>
<circle cx="332.3" cy="347.7" r="0.60" fill="#8f8a7e"/>
<circle cx="345.3" cy="342.1" r="0.61" fill="#8f8a7e"/>
<circle cx="352.2" cy="336.9" r="0.61" fill="#8f8a7e"/>
<circle cx="352.8" cy="338.3" r="0.61" fill="#8f8a7e"/>
<circle cx="344.9" cy="340.7" r="0.51" fill="#8f8a7e"/>
<circle cx="346.2" cy="342.8" r="0.56" fill="#8f8a7e"/>
<circle cx="338.4" cy="347.9" r="0.46" fill="#8f8a7e"/>
<circle cx="347.8" cy="340.4" r="0.62" fill="#8f8a7e"/>
<circle cx="352.0" cy="341.1" r="0.55" fill="#8f8a7e"/>
<circle cx="335.7" cy="347.3" r="0.40" fill="#8f8a7e"/>
<circle cx="347.0" cy="340.9" r="0.54" fill="#8f8a7e"/>
<circle cx="356.3" cy="338.5" r="0.55" fill="#8f8a7e"/>
<circle cx="356.8" cy="338.2" r="0.53" fill="#8f8a7e"/>
<circle cx="344.9" cy="344.0" r="0.63" fill="#8f8a7e"/>
<circle cx="335.0" cy="345.1" r="0.55" fill="#8f8a7e"/>
<circle cx="353.6" cy="340.2" r="0.63" fill="#8f8a7e"/>
<circle cx="342.6" cy="344.4" r="0.62" fill="#8f8a7e"/>
<circle cx="350.3" cy="340.3" r="0.42" fill="#8f8a7e"/>
<circle cx="340.5" cy="344.8" r="0.65" fill="#8f8a7e"/>
<circle cx="339.4" cy="341.8" r="0.35" fill="#8f8a7e"/>
<circle cx="336.8" cy="343.6" r="0.56" fill="#8f8a7e"/>
<circle cx="348.0" cy="341.1" r="0.64" fill="#8f8a7e"/>
<circle cx="348.2" cy="338.2" r="0.37" fill="#8f8a7e"/>
<circle cx="352.2" cy="338.1" r="0.42" fill="#8f8a7e"/>
<circle cx="336.2" cy="347.1" r="0.55" fill="#8f8a7e"/>
<circle cx="338.8" cy="343.3" r="0.40" fill="#8f8a7e"/>
<circle cx="333.6" cy="349.9" r="0.44" fill="#8f8a7e"/>
<circle cx="346.4" cy="343.0" r="0.40" fill="#8f8a7e"/>
<circle cx="354.7" cy="339.6" r="0.47" fill="#8f8a7e"/>
<circle cx="340.5" cy="341.4" r="0.48" fill="#8f8a7e"/>
<circle cx="332.7" cy="348.3" r="0.36" fill="#8f8a7e"/>
<circle cx="357.0" cy="338.1" r="0.40" fill="#8f8a7e"/>
<circle cx="338.0" cy="343.7" r="0.49" fill="#8f8a7e"/>
<circle cx="350.7" cy="338.6" r="0.60" fill="#8f8a7e"/>
<circle cx="334.8" cy="344.7" r="0.62" fill="#8f8a7e"/>
<circle cx="339.9" cy="345.1" r="0.62" fill="#8f8a7e"/>
<path d="M336.5,360 L339,360 L339.5,387 L337,387 Z" fill="#e2dcde" opacity="0.35" />
<path d="M339,389 C341,386.5 344.5,387 347.5,390 C351.5,394 355,399 355.5,405 L337.5,405 C337,399 337.5,393 339,389 Z" fill="#e9e6e8" opacity="1" />
<circle cx="347.5" cy="401.2" r="0.53" fill="#8f8a7e"/>
<circle cx="351.3" cy="401.1" r="0.56" fill="#8f8a7e"/>
<circle cx="340.3" cy="398.1" r="0.57" fill="#8f8a7e"/>
<circle cx="347.8" cy="402.9" r="0.35" fill="#8f8a7e"/>
<circle cx="345.6" cy="395.7" r="0.46" fill="#8f8a7e"/>
<circle cx="346.9" cy="393.1" r="0.37" fill="#8f8a7e"/>
<circle cx="343.4" cy="403.1" r="0.52" fill="#8f8a7e"/>
<circle cx="341.9" cy="401.8" r="0.35" fill="#8f8a7e"/>
<circle cx="347.4" cy="394.4" r="0.32" fill="#8f8a7e"/>
<circle cx="350.5" cy="395.3" r="0.37" fill="#8f8a7e"/>
<circle cx="351.8" cy="402.6" r="0.39" fill="#8f8a7e"/>
<circle cx="351.5" cy="398.9" r="0.50" fill="#8f8a7e"/>
<circle cx="342.5" cy="403.4" r="0.50" fill="#8f8a7e"/>
<circle cx="351.6" cy="402.8" r="0.40" fill="#8f8a7e"/>
<circle cx="344.3" cy="394.8" r="0.35" fill="#8f8a7e"/>
<circle cx="340.8" cy="396.3" r="0.48" fill="#8f8a7e"/>
<circle cx="340.0" cy="400.5" r="0.41" fill="#8f8a7e"/>
<circle cx="343.7" cy="402.0" r="0.44" fill="#8f8a7e"/>
<circle cx="343.8" cy="398.3" r="0.51" fill="#8f8a7e"/>
<circle cx="340.7" cy="403.7" r="0.32" fill="#8f8a7e"/>
<circle cx="349.0" cy="402.3" r="0.32" fill="#8f8a7e"/>
<circle cx="349.5" cy="397.0" r="0.47" fill="#8f8a7e"/>
<circle cx="340.1" cy="393.5" r="0.36" fill="#8f8a7e"/>
<circle cx="351.5" cy="395.2" r="0.52" fill="#8f8a7e"/>
<circle cx="351.2" cy="403.4" r="0.41" fill="#8f8a7e"/></g>
<line x1="384.3" y1="396.3" x2="406.8" y2="396.3" stroke="#111" stroke-width="1.0" />
<line x1="384.3" y1="394.8" x2="384.3" y2="397.8" stroke="#111" stroke-width="0.8" />
<line x1="406.8" y1="394.8" x2="406.8" y2="397.8" stroke="#111" stroke-width="0.8" />
<text x="396.05" y="394.1" font-size="4.8" text-anchor="middle" fill="#1a1a1a" font-weight="normal">100 µm</text>
</g>
<rect x="322.6" y="335.70000000000005" width="91.8" height="68.8" fill="none" stroke="#262626" stroke-width="1.3"/>
<clipPath id="cp20"><rect x="37" y="407.0" width="93" height="70"/></clipPath>
<g clip-path="url(#cp20)">
<rect x="37" y="407.0" width="93" height="70" fill="#aa4798"/>
<rect x="37" y="407.0" width="93" height="70" filter="url(#tHE)" opacity="0.95"/>
<g filter="url(#bl)"><path d="M61.5,422 L64,421.5 L73,434 L71.5,437.5 L69,436 Z" fill="#f3f1f3" opacity="1" />
<path d="M64,424.5 L65.8,424.5 L70.3,433.3 L69.4,434.2 Z" fill="#b0609f" opacity="1" />
<ellipse cx="108" cy="442.8" rx="3" ry="2.3" fill="#f3f1f3" opacity="1" transform="rotate(-20 108 442.8)" />
<ellipse cx="56" cy="468" rx="2.4" ry="2.8" fill="#f3f1f3" opacity="1" transform="rotate(-30 56 468)" />
<ellipse cx="56" cy="468" rx="1" ry="1.3" fill="#c080b0" opacity="1" transform="rotate(-30 56 468)" /></g>
<line x1="102.2" y1="468.2" x2="124.6" y2="468.2" stroke="#111" stroke-width="1.0" />
<line x1="102.2" y1="466.7" x2="102.2" y2="469.7" stroke="#111" stroke-width="0.8" />
<line x1="124.6" y1="466.7" x2="124.6" y2="469.7" stroke="#111" stroke-width="0.8" />
<text x="113.9" y="466.0" font-size="4.8" text-anchor="middle" fill="#1a1a1a" font-weight="normal">200 µm</text>
</g>
<rect x="37.6" y="407.6" width="91.8" height="68.8" fill="none" stroke="#262626" stroke-width="1.3"/>
<clipPath id="cp21"><rect x="132" y="407.0" width="93" height="70"/></clipPath>
<g clip-path="url(#cp21)">
<rect x="132" y="407.0" width="93" height="70" fill="#82357d"/>
<rect x="132" y="407.0" width="93" height="70" filter="url(#tMA)" opacity="0.95"/>
<g filter="url(#bl)"><path d="M159.5,423.5 L162,423 L169.8,433 L168.5,436.5 L166,435.5 Z" fill="#f3f1f3" opacity="1" />
<path d="M162,425.5 L163.5,425.5 L167.5,433 L166.5,434 Z" fill="#8a4a8a" opacity="1" />
<ellipse cx="204" cy="442.2" rx="3.5" ry="2.2" fill="#f3f1f3" opacity="1" transform="rotate(-10 204 442.2)" />
<ellipse cx="150.6" cy="466.7" rx="2.2" ry="2.8" fill="#f3f1f3" opacity="1" transform="rotate(-30 150.6 466.7)" /></g>
<line x1="196.0" y1="468.2" x2="218.8" y2="468.2" stroke="#111" stroke-width="1.0" />
<line x1="196.0" y1="466.7" x2="196.0" y2="469.7" stroke="#111" stroke-width="0.8" />
<line x1="218.8" y1="466.7" x2="218.8" y2="469.7" stroke="#111" stroke-width="0.8" />
<text x="207.9" y="466.0" font-size="4.8" text-anchor="middle" fill="#1a1a1a" font-weight="normal">200 µm</text>
</g>
<rect x="132.6" y="407.6" width="91.8" height="68.8" fill="none" stroke="#262626" stroke-width="1.3"/>
<clipPath id="cp22"><rect x="227" y="407.0" width="93" height="70"/></clipPath>
<g clip-path="url(#cp22)">
<rect x="227" y="407.0" width="93" height="70" fill="#d5bbc9"/>
<rect x="227" y="407.0" width="93" height="70" filter="url(#tCU)" opacity="0.55"/>
<g filter="url(#bl)"><ellipse cx="256.5" cy="427.4" rx="2.3" ry="5" fill="#e2dce0" opacity="0.9" transform="rotate(-30 256.5 427.4)" />
<ellipse cx="296.5" cy="440.7" rx="2.8" ry="2" fill="#ebe6ea" opacity="0.9" transform="rotate(0 296.5 440.7)" />
<ellipse cx="242.5" cy="463" rx="2" ry="2.2" fill="#e2dce0" opacity="0.9" transform="rotate(0 242.5 463)" /></g>
<line x1="290.0" y1="468.2" x2="312.4" y2="468.2" stroke="#111" stroke-width="1.0" />
<line x1="290.0" y1="466.7" x2="290.0" y2="469.7" stroke="#111" stroke-width="0.8" />
<line x1="312.4" y1="466.7" x2="312.4" y2="469.7" stroke="#111" stroke-width="0.8" />
<text x="301.7" y="466.0" font-size="4.8" text-anchor="middle" fill="#1a1a1a" font-weight="normal">200 µm</text>
</g>
<rect x="227.6" y="407.6" width="91.8" height="68.8" fill="none" stroke="#262626" stroke-width="1.3"/>
<clipPath id="cp23"><rect x="322" y="407.0" width="93" height="70"/></clipPath>
<g clip-path="url(#cp23)">
<rect x="322" y="407.0" width="93" height="70" fill="#d8c0cd"/>
<rect x="322" y="407.0" width="93" height="70" filter="url(#tCU)" opacity="0.8"/>
<g filter="url(#bl)"></g>
<line x1="384.3" y1="468.2" x2="406.8" y2="468.2" stroke="#111" stroke-width="1.0" />
<line x1="384.3" y1="466.7" x2="384.3" y2="469.7" stroke="#111" stroke-width="0.8" />
<line x1="406.8" y1="466.7" x2="406.8" y2="469.7" stroke="#111" stroke-width="0.8" />
<text x="396.05" y="466.0" font-size="4.8" text-anchor="middle" fill="#1a1a1a" font-weight="normal">100 µm</text>
</g>
<rect x="322.6" y="407.6" width="91.8" height="68.8" fill="none" stroke="#262626" stroke-width="1.3"/>
<clipPath id="cp30"><rect x="37" y="479.0" width="93" height="70"/></clipPath>
<g clip-path="url(#cp30)">
<rect x="37" y="479.0" width="93" height="70" fill="#a63890"/>
<g filter="url(#bl2)"><ellipse cx="58.5" cy="485" rx="7" ry="6" fill="#c890c8" opacity="0.55" transform="rotate(0 58.5 485)" />
<ellipse cx="111" cy="485" rx="10" ry="6" fill="#6a2f86" opacity="0.4" transform="rotate(0 111 485)" />
<ellipse cx="95" cy="520" rx="14" ry="10" fill="#8a3a90" opacity="0.25" transform="rotate(0 95 520)" /></g>
<rect x="37" y="479.0" width="93" height="70" filter="url(#tHE)" opacity="0.95"/>
<g filter="url(#bl)"><path d="M111.0,485.0 Q108.8,485.7 107.4,487.1 M111.0,485.0 Q111.9,487.3 114.9,489.1 M111.0,485.0 Q108.6,483.5 105.0,483.0 M111.0,485.0 Q108.8,484.0 105.8,483.9 M111.0,485.0 Q111.6,483.1 110.3,481.1 M111.0,485.0 Q112.6,483.2 112.3,480.9 M111.0,485.0 Q113.2,483.8 114.1,482.0 M111.0,485.0 Q111.7,486.4 113.6,487.4 M111.0,485.0 Q111.3,483.6 110.2,482.1 M111.0,485.0 Q110.0,483.1 107.3,481.7" stroke="#5a3090" stroke-width="1.0" fill="none" opacity="0.45" stroke-linecap="round"/>
<path d="M100.0,520.0 Q99.2,518.1 97.4,516.9 M100.0,520.0 Q98.9,522.2 99.2,524.8 M100.0,520.0 Q100.7,516.7 99.4,513.3 M100.0,520.0 Q102.0,519.2 103.4,517.3 M100.0,520.0 Q98.0,520.4 96.4,521.9 M100.0,520.0 Q99.7,523.0 101.2,525.9 M100.0,520.0 Q102.1,521.1 104.7,520.8 M100.0,520.0 Q99.0,517.1 96.4,515.0" stroke="#6a3a98" stroke-width="0.9" fill="none" opacity="0.35" stroke-linecap="round"/>
<path d="M43.5,499.5 C46,497 52,497 55,499.5 C56.5,503 55.5,507 56,510 C57,512.5 55.5,514.5 53,513.5 C50,512.5 47,512 44.5,509.5 C43,507 42.5,503 43.5,499.5 Z" fill="#f6f4f6" opacity="1" />
<path d="M39,501 L43.5,503 L43,505 L38.5,504 Z" fill="#efe9ef" opacity="1" />
<ellipse cx="115.6" cy="549.5" rx="6.5" ry="5" fill="#f5f3f5" opacity="1" transform="rotate(0 115.6 549.5)" />
<ellipse cx="87.2" cy="526.5" rx="1.2" ry="1.2" fill="#f0f0f0" opacity="1" transform="rotate(0 87.2 526.5)" /></g>
<line x1="102.2" y1="540.2" x2="124.6" y2="540.2" stroke="#111" stroke-width="1.0" />
<line x1="102.2" y1="538.7" x2="102.2" y2="541.7" stroke="#111" stroke-width="0.8" />
<line x1="124.6" y1="538.7" x2="124.6" y2="541.7" stroke="#111" stroke-width="0.8" />
<text x="113.9" y="538.0" font-size="4.8" text-anchor="middle" fill="#1a1a1a" font-weight="normal">200 µm</text>
</g>
<rect x="37.6" y="479.6" width="91.8" height="68.8" fill="none" stroke="#262626" stroke-width="1.3"/>
<clipPath id="cp31"><rect x="132" y="479.0" width="93" height="70"/></clipPath>
<g clip-path="url(#cp31)">
<rect x="132" y="479.0" width="93" height="70" fill="#8a3585"/>
<g filter="url(#bl2)"><ellipse cx="151.5" cy="485" rx="7" ry="6" fill="#5252b2" opacity="0.5" transform="rotate(0 151.5 485)" />
<ellipse cx="208" cy="484" rx="9" ry="5.5" fill="#5252b2" opacity="0.55" transform="rotate(0 208 484)" />
<path d="M199,510 L207,506 L214,509 L216,516 L212,524 L205,526 L200,520 Z" fill="#5252b2" opacity="0.55" />
<path d="M174,518 L181,515 L186,520 L185,530 L180,536 L174,534 L172,527 Z" fill="#5252b2" opacity="0.55" />
<path d="M145,526 L152,523 L158,528 L157,537 L150,539 L145,535 Z" fill="#3e3e98" opacity="0.6" /></g>
<rect x="132" y="479.0" width="93" height="70" filter="url(#tMA)" opacity="0.95"/>
<g filter="url(#bl)"><path d="M207.0,515.0 Q209.6,515.9 212.5,515.4 M207.0,515.0 Q203.1,516.4 200.4,519.7 M207.0,515.0 Q208.1,517.3 210.6,518.8 M207.0,515.0 Q206.2,518.9 208.0,522.9 M207.0,515.0 Q208.5,518.7 212.2,521.3 M207.0,515.0 Q206.3,512.5 204.0,510.6 M207.0,515.0 Q203.9,513.4 199.9,513.6 M207.0,515.0 Q202.2,516.1 198.5,519.7 M207.0,515.0 Q208.6,516.8 211.3,517.5 M207.0,515.0 Q210.5,514.8 213.5,512.7 M207.0,515.0 Q207.1,518.0 209.1,520.7 M207.0,515.0 Q202.8,517.3 200.5,521.6 M207.0,515.0 Q206.8,517.7 208.5,520.3 M207.0,515.0 Q204.4,512.4 200.3,511.5" stroke="#4a4aa8" stroke-width="1.1" fill="none" opacity="0.6" stroke-linecap="round"/>
<path d="M179.0,525.0 Q180.5,527.4 182.8,528.1 M179.0,525.0 Q177.0,529.2 176.8,534.9 M179.0,525.0 Q176.1,523.7 173.0,525.2 M179.0,525.0 Q180.6,528.3 183.3,529.9 M179.0,525.0 Q181.1,522.3 181.9,518.0 M179.0,525.0 Q182.3,524.8 185.2,521.5 M179.0,525.0 Q177.5,526.3 176.6,529.0 M179.0,525.0 Q179.6,522.1 179.1,518.8 M179.0,525.0 Q181.8,526.7 185.0,525.6 M179.0,525.0 Q181.5,521.8 182.5,516.6 M179.0,525.0 Q181.1,525.0 183.0,523.1 M179.0,525.0 Q180.3,527.2 182.4,528.0" stroke="#4a4aa8" stroke-width="1.1" fill="none" opacity="0.6" stroke-linecap="round"/>
<path d="M151.0,530.0 Q149.2,528.1 146.6,527.6 M151.0,530.0 Q152.3,528.3 152.6,525.9 M151.0,530.0 Q150.1,526.9 147.7,524.6 M151.0,530.0 Q152.7,529.4 154.0,527.7 M151.0,530.0 Q150.2,527.3 148.2,525.4 M151.0,530.0 Q148.2,528.9 145.1,529.9 M151.0,530.0 Q149.1,528.8 146.7,529.1 M151.0,530.0 Q153.4,529.8 155.6,528.0 M151.0,530.0 Q149.9,531.9 149.8,534.3 M151.0,530.0 Q149.5,529.5 147.8,530.1" stroke="#3a3a90" stroke-width="1.2" fill="none" opacity="0.6" stroke-linecap="round"/>
<path d="M151.0,485.0 Q148.9,484.1 146.3,484.3 M151.0,485.0 Q153.2,483.5 154.2,481.0 M151.0,485.0 Q152.9,484.3 154.0,482.7 M151.0,485.0 Q153.1,485.0 155.1,483.9 M151.0,485.0 Q150.0,486.1 149.9,487.6 M151.0,485.0 Q149.4,484.5 147.5,484.8 M151.0,485.0 Q149.9,486.8 150.3,489.0 M151.0,485.0 Q152.2,483.0 151.9,480.7" stroke="#5050aa" stroke-width="1.0" fill="none" opacity="0.5" stroke-linecap="round"/>
<path d="M208.0,484.0 Q205.1,482.8 201.3,482.7 M208.0,484.0 Q209.0,481.8 207.9,479.3 M208.0,484.0 Q206.0,486.1 206.2,488.8 M208.0,484.0 Q205.4,482.6 201.6,482.2 M208.0,484.0 Q209.3,481.7 208.2,479.2 M208.0,484.0 Q206.8,485.5 207.2,487.4 M208.0,484.0 Q208.3,482.0 206.7,480.1 M208.0,484.0 Q208.8,482.4 208.0,480.6 M208.0,484.0 Q210.0,484.0 211.9,483.3 M208.0,484.0 Q208.3,482.3 207.0,480.6" stroke="#4a4aa8" stroke-width="1.1" fill="none" opacity="0.55" stroke-linecap="round"/>
<path d="M138,499.5 C140,496.5 146,496.5 149,499 C151,502 150,506 150.5,509 C151.5,511.5 150,513 147.5,512 C144.5,511 141,510 138.5,507.5 C137,505 137,502 138,499.5 Z" fill="#f6f4f6" opacity="1" />
<path d="M134,501.5 L138,503 L137.6,505 L133.5,504 Z" fill="#efe9ef" opacity="1" />
<ellipse cx="212" cy="549.5" rx="7" ry="5" fill="#f5f3f5" opacity="1" transform="rotate(0 212 549.5)" />
<ellipse cx="182.5" cy="524" rx="1.2" ry="1.5" fill="#f0f0f0" opacity="1" transform="rotate(0 182.5 524)" /></g>
<line x1="196.0" y1="540.2" x2="218.8" y2="540.2" stroke="#111" stroke-width="1.0" />
<line x1="196.0" y1="538.7" x2="196.0" y2="541.7" stroke="#111" stroke-width="0.8" />
<line x1="218.8" y1="538.7" x2="218.8" y2="541.7" stroke="#111" stroke-width="0.8" />
<text x="207.9" y="538.0" font-size="4.8" text-anchor="middle" fill="#1a1a1a" font-weight="normal">200 µm</text>
</g>
<rect x="132.6" y="479.6" width="91.8" height="68.8" fill="none" stroke="#262626" stroke-width="1.3"/>
<clipPath id="cp32"><rect x="227" y="479.0" width="93" height="70"/></clipPath>
<g clip-path="url(#cp32)">
<rect x="227" y="479.0" width="93" height="70" fill="#d7bdcb"/>
<rect x="227" y="479.0" width="93" height="70" filter="url(#tCU)" opacity="0.55"/>
<g filter="url(#bl)"><path d="M234,499 C236,495.5 243,495.5 245.5,498.5 C247,502 246.5,506 244,508.5 C241,510 236.5,509 234.5,506.5 C233,504 233,501 234,499 Z" fill="#eeebed" opacity="1" /></g>
<line x1="290.0" y1="540.2" x2="312.4" y2="540.2" stroke="#111" stroke-width="1.0" />
<line x1="290.0" y1="538.7" x2="290.0" y2="541.7" stroke="#111" stroke-width="0.8" />
<line x1="312.4" y1="538.7" x2="312.4" y2="541.7" stroke="#111" stroke-width="0.8" />
<text x="301.7" y="538.0" font-size="4.8" text-anchor="middle" fill="#1a1a1a" font-weight="normal">200 µm</text>
</g>
<rect x="227.6" y="479.6" width="91.8" height="68.8" fill="none" stroke="#262626" stroke-width="1.3"/>
<clipPath id="cp33"><rect x="322" y="479.0" width="93" height="70"/></clipPath>
<g clip-path="url(#cp33)">
<rect x="322" y="479.0" width="93" height="70" fill="#d9c1ce"/>
<rect x="322" y="479.0" width="93" height="70" filter="url(#tCU)" opacity="0.8"/>
<g filter="url(#bl)"></g>
<line x1="384.3" y1="540.2" x2="406.8" y2="540.2" stroke="#111" stroke-width="1.0" />
<line x1="384.3" y1="538.7" x2="384.3" y2="541.7" stroke="#111" stroke-width="0.8" />
<line x1="406.8" y1="538.7" x2="406.8" y2="541.7" stroke="#111" stroke-width="0.8" />
<text x="396.05" y="538.0" font-size="4.8" text-anchor="middle" fill="#1a1a1a" font-weight="normal">100 µm</text>
</g>
<rect x="322.6" y="479.6" width="91.8" height="68.8" fill="none" stroke="#262626" stroke-width="1.3"/>
<clipPath id="cp40"><rect x="37" y="551.0" width="93" height="70"/></clipPath>
<g clip-path="url(#cp40)">
<rect x="37" y="551.0" width="93" height="70" fill="#a83e94"/>
<g filter="url(#bl2)"><ellipse cx="62" cy="574" rx="9.5" ry="9.5" fill="#d9a2d6" opacity="0.55" transform="rotate(0 62 574)" />
<path d="M72,566 L84,568 L100,590 L101,606 L92,609 L80,592 L74,580 Z" fill="#b07ac8" opacity="0.4" />
<path d="M104,553 L128,553 L129,590 L118,592 L106,578 Z" fill="#a872c0" opacity="0.35" />
<ellipse cx="95" cy="606" rx="6" ry="5" fill="#d0a8dc" opacity="0.45" transform="rotate(0 95 606)" /></g>
<rect x="37" y="551.0" width="93" height="70" filter="url(#tHE)" opacity="0.95"/>
<g filter="url(#bl)"><ellipse cx="45.5" cy="588.5" rx="1.4" ry="8" fill="#e8dae8" opacity="0.9" transform="rotate(5 45.5 588.5)" />
<ellipse cx="44.2" cy="595.3" rx="2.2" ry="2" fill="#eee4ee" opacity="0.9" transform="rotate(0 44.2 595.3)" />
<ellipse cx="95" cy="605.5" rx="2.5" ry="4" fill="#e6d6e8" opacity="0.8" transform="rotate(20 95 605.5)" />
<path d="M87,604 L88.6,604 L88.6,617.5 L87,617.5 Z" fill="#e8dce8" opacity="0.8" /></g>
<line x1="102.2" y1="612.2" x2="124.6" y2="612.2" stroke="#111" stroke-width="1.0" />
<line x1="102.2" y1="610.7" x2="102.2" y2="613.7" stroke="#111" stroke-width="0.8" />
<line x1="124.6" y1="610.7" x2="124.6" y2="613.7" stroke="#111" stroke-width="0.8" />
<text x="113.9" y="610.0" font-size="4.8" text-anchor="middle" fill="#1a1a1a" font-weight="normal">200 µm</text>
</g>
<rect x="37.6" y="551.6" width="91.8" height="68.8" fill="none" stroke="#262626" stroke-width="1.3"/>
<clipPath id="cp41"><rect x="132" y="551.0" width="93" height="70"/></clipPath>
<g clip-path="url(#cp41)">
<rect x="132" y="551.0" width="93" height="70" fill="#893787"/>
<g filter="url(#bl2)"><path d="M163,551 L186,551 L189,566 L190,585 L197,600 L198,621 L184,621 L179,604 L171,590 L164,572 Z" fill="#5252b2" opacity="0.5" />
<path d="M201,551 L220,551 L219,575 L213,594 L203,608 L197,602 L202,585 L202,566 Z" fill="#5252b2" opacity="0.52" />
<path d="M142,551 L158,551 L156,559 L146,561 Z" fill="#5252b2" opacity="0.4" />
<ellipse cx="155.5" cy="575.5" rx="8.5" ry="8" fill="#c89ad8" opacity="0.55" transform="rotate(0 155.5 575.5)" /></g>
<rect x="132" y="551.0" width="93" height="70" filter="url(#tMA)" opacity="0.95"/>
<g filter="url(#bl)"><ellipse cx="139.6" cy="591" rx="1.8" ry="7.5" fill="#e6dae8" opacity="0.9" transform="rotate(5 139.6 591)" />
<ellipse cx="139.6" cy="598" rx="2" ry="2" fill="#e6dae8" opacity="0.8" transform="rotate(0 139.6 598)" /></g>
<line x1="196.0" y1="612.2" x2="218.8" y2="612.2" stroke="#111" stroke-width="1.0" />
<line x1="196.0" y1="610.7" x2="196.0" y2="613.7" stroke="#111" stroke-width="0.8" />
<line x1="218.8" y1="610.7" x2="218.8" y2="613.7" stroke="#111" stroke-width="0.8" />
<text x="207.9" y="610.0" font-size="4.8" text-anchor="middle" fill="#1a1a1a" font-weight="normal">200 µm</text>
</g>
<rect x="132.6" y="551.6" width="91.8" height="68.8" fill="none" stroke="#262626" stroke-width="1.3"/>
<clipPath id="cp42"><rect x="227" y="551.0" width="93" height="70"/></clipPath>
<g clip-path="url(#cp42)">
<rect x="227" y="551.0" width="93" height="70" fill="#d4b9c8"/>
<rect x="227" y="551.0" width="93" height="70" filter="url(#tCU)" opacity="0.55"/>
<g filter="url(#bl)"><ellipse cx="251.6" cy="572.8" rx="7" ry="7" fill="#e2d4dc" opacity="0.7" transform="rotate(0 251.6 572.8)" />
<ellipse cx="284.5" cy="605.1" rx="3.5" ry="2.8" fill="#e8e0e4" opacity="0.8" transform="rotate(0 284.5 605.1)" />
<ellipse cx="232.5" cy="590" rx="1.8" ry="3" fill="#e8e0e4" opacity="0.8" transform="rotate(0 232.5 590)" /></g>
<line x1="290.0" y1="612.2" x2="312.4" y2="612.2" stroke="#111" stroke-width="1.0" />
<line x1="290.0" y1="610.7" x2="290.0" y2="613.7" stroke="#111" stroke-width="0.8" />
<line x1="312.4" y1="610.7" x2="312.4" y2="613.7" stroke="#111" stroke-width="0.8" />
<text x="301.7" y="610.0" font-size="4.8" text-anchor="middle" fill="#1a1a1a" font-weight="normal">200 µm</text>
</g>
<rect x="227.6" y="551.6" width="91.8" height="68.8" fill="none" stroke="#262626" stroke-width="1.3"/>
<clipPath id="cp43"><rect x="322" y="551.0" width="93" height="70"/></clipPath>
<g clip-path="url(#cp43)">
<rect x="322" y="551.0" width="93" height="70" fill="#d4b9c7"/>
<rect x="322" y="551.0" width="93" height="70" filter="url(#tCU)" opacity="0.8"/>
<g filter="url(#bl)"><line x1="384.8" y1="584.5" x2="375.2" y2="576.0" stroke="#111" stroke-width="1.5"/>
<path d="M370.8,572.2 L377.0,573.9 L373.3,578.1 Z" fill="#111"/>
<line x1="379.3" y1="598.8" x2="369.6" y2="590.6" stroke="#111" stroke-width="1.5"/>
<path d="M365.2,586.8 L371.4,588.4 L367.8,592.7 Z" fill="#111"/></g>
<line x1="384.3" y1="612.2" x2="406.8" y2="612.2" stroke="#111" stroke-width="1.0" />
<line x1="384.3" y1="610.7" x2="384.3" y2="613.7" stroke="#111" stroke-width="0.8" />
<line x1="406.8" y1="610.7" x2="406.8" y2="613.7" stroke="#111" stroke-width="0.8" />
<text x="396.05" y="610.0" font-size="4.8" text-anchor="middle" fill="#1a1a1a" font-weight="normal">100 µm</text>
</g>
<rect x="322.6" y="551.6" width="91.8" height="68.8" fill="none" stroke="#262626" stroke-width="1.3"/>
<clipPath id="cp50"><rect x="37" y="622.8" width="93" height="70"/></clipPath>
<g clip-path="url(#cp50)">
<rect x="37" y="622.8" width="93" height="70" fill="#a83a91"/>
<g filter="url(#bl2)"><ellipse cx="48.3" cy="676.3" rx="8.5" ry="10" fill="#9a70c0" opacity="0.4" transform="rotate(0 48.3 676.3)" /></g>
<rect x="37" y="622.8" width="93" height="70" filter="url(#tHE)" opacity="0.95"/>
<g filter="url(#bl)"><path d="M110.5,647 C111,643 114.5,640.5 118,641 C121,642 123,645 126,648 C128,651 127.5,656 124,659.5 C120.5,662 116.5,660.5 114.5,657.5 C112.5,654.5 110.3,651 110.5,647 Z" fill="#f4f1f4" opacity="1" />
<circle cx="118.9" cy="653.9" r="0.50" fill="#b89ab8"/>
<circle cx="115.9" cy="644.0" r="0.55" fill="#b89ab8"/>
<circle cx="117.1" cy="653.1" r="0.46" fill="#b89ab8"/>
<circle cx="118.7" cy="647.3" r="0.59" fill="#b89ab8"/>
<circle cx="118.5" cy="649.0" r="0.51" fill="#b89ab8"/>
<circle cx="118.3" cy="646.3" r="0.52" fill="#b89ab8"/>
<circle cx="118.9" cy="647.2" r="0.59" fill="#b89ab8"/>
<circle cx="118.3" cy="654.1" r="0.45" fill="#b89ab8"/>
<circle cx="115.0" cy="653.6" r="0.59" fill="#b89ab8"/>
<circle cx="116.9" cy="645.1" r="0.41" fill="#b89ab8"/>
<circle cx="118.0" cy="647.5" r="0.64" fill="#b89ab8"/>
<circle cx="117.7" cy="646.4" r="0.55" fill="#b89ab8"/>
<path d="M107,629.5 L108.2,629 L113.5,640.5 L112.3,641 Z" fill="#eadcea" opacity="0.8" />
<ellipse cx="75.6" cy="625.6" rx="2" ry="0.8" fill="#eee" opacity="0.8" transform="rotate(0 75.6 625.6)" />
<ellipse cx="48.3" cy="677" rx="5.2" ry="7" fill="#b73a55" opacity="0.8" transform="rotate(0 48.3 677)" />
<ellipse cx="47.9" cy="667.8" rx="1.3" ry="1.3" fill="#ffffff" opacity="1" transform="rotate(0 47.9 667.8)" /></g>
<line x1="102.2" y1="684.0" x2="124.6" y2="684.0" stroke="#111" stroke-width="1.0" />
<line x1="102.2" y1="682.5" x2="102.2" y2="685.5" stroke="#111" stroke-width="0.8" />
<line x1="124.6" y1="682.5" x2="124.6" y2="685.5" stroke="#111" stroke-width="0.8" />
<text x="113.9" y="681.8" font-size="4.8" text-anchor="middle" fill="#1a1a1a" font-weight="normal">200 µm</text>
</g>
<rect x="37.6" y="623.4" width="91.8" height="68.8" fill="none" stroke="#262626" stroke-width="1.3"/>
<clipPath id="cp51"><rect x="132" y="622.8" width="93" height="70"/></clipPath>
<g clip-path="url(#cp51)">
<rect x="132" y="622.8" width="93" height="70" fill="#8c3589"/>
<rect x="132" y="622.8" width="93" height="70" filter="url(#tMA)" opacity="0.95"/>
<g filter="url(#bl)"><path d="M207,644 C206.5,640 210.5,637.5 214,638.5 C218,640 221,644 222.5,649 C223.5,654 221,659.5 217,662.5 C213,664 211,660 211,656 C211,652 207.5,648.5 207,644 Z" fill="#e7e4e8" opacity="1" />
<circle cx="212.6" cy="644.1" r="0.49" fill="#8e7e98"/>
<circle cx="210.6" cy="649.5" r="0.41" fill="#8e7e98"/>
<circle cx="210.5" cy="649.1" r="0.33" fill="#8e7e98"/>
<circle cx="213.5" cy="643.0" r="0.34" fill="#8e7e98"/>
<circle cx="213.4" cy="653.6" r="0.35" fill="#8e7e98"/>
<circle cx="211.8" cy="650.8" r="0.57" fill="#8e7e98"/>
<circle cx="214.6" cy="647.6" r="0.58" fill="#8e7e98"/>
<circle cx="210.4" cy="654.0" r="0.39" fill="#8e7e98"/>
<circle cx="211.2" cy="643.6" r="0.40" fill="#8e7e98"/>
<circle cx="216.5" cy="644.5" r="0.47" fill="#8e7e98"/>
<circle cx="215.1" cy="647.2" r="0.46" fill="#8e7e98"/>
<circle cx="210.5" cy="642.8" r="0.37" fill="#8e7e98"/>
<circle cx="215.4" cy="648.0" r="0.40" fill="#8e7e98"/>
<circle cx="214.7" cy="648.3" r="0.40" fill="#8e7e98"/>
<path d="M205,630 L206.2,629.5 L210.8,638 L209.6,638.5 Z" fill="#eadcea" opacity="0.8" />
<ellipse cx="143.5" cy="674" rx="7.5" ry="11.5" fill="#3838a0" opacity="0.85" transform="rotate(0 143.5 674)" />
<ellipse cx="143.5" cy="675" rx="4.3" ry="6.5" fill="#8a2a5a" opacity="0.9" transform="rotate(0 143.5 675)" />
<ellipse cx="142.8" cy="666.2" rx="1.4" ry="1.6" fill="#f4f0f4" opacity="1" transform="rotate(0 142.8 666.2)" /></g>
<line x1="196.0" y1="684.0" x2="218.8" y2="684.0" stroke="#111" stroke-width="1.0" />
<line x1="196.0" y1="682.5" x2="196.0" y2="685.5" stroke="#111" stroke-width="0.8" />
<line x1="218.8" y1="682.5" x2="218.8" y2="685.5" stroke="#111" stroke-width="0.8" />
<text x="207.9" y="681.8" font-size="4.8" text-anchor="middle" fill="#1a1a1a" font-weight="normal">200 µm</text>
</g>
<rect x="132.6" y="623.4" width="91.8" height="68.8" fill="none" stroke="#262626" stroke-width="1.3"/>
<clipPath id="cp52"><rect x="227" y="622.8" width="93" height="70"/></clipPath>
<g clip-path="url(#cp52)">
<rect x="227" y="622.8" width="93" height="70" fill="#d4b9c8"/>
<rect x="227" y="622.8" width="93" height="70" filter="url(#tCU)" opacity="0.55"/>
<g filter="url(#bl)"><path d="M301,637 C302,632.5 306.5,630.5 309.5,632.5 C311.5,634.5 311,639 313,644 C315.5,650 316.5,658 313,664 C310,667 305.5,665 305,660 C304.5,653 300.5,645 301,637 Z" fill="#e6e3e5" opacity="1" />
<circle cx="305.0" cy="657.1" r="0.35" fill="#a09a8c"/>
<circle cx="309.3" cy="636.0" r="0.38" fill="#a09a8c"/>
<circle cx="312.0" cy="639.0" r="0.49" fill="#a09a8c"/>
<circle cx="307.1" cy="644.9" r="0.45" fill="#a09a8c"/>
<circle cx="304.7" cy="653.9" r="0.34" fill="#a09a8c"/>
<circle cx="305.1" cy="634.5" r="0.39" fill="#a09a8c"/>
<circle cx="306.7" cy="655.6" r="0.42" fill="#a09a8c"/>
<circle cx="304.0" cy="640.2" r="0.58" fill="#a09a8c"/>
<circle cx="303.6" cy="648.9" r="0.42" fill="#a09a8c"/>
<circle cx="308.9" cy="642.1" r="0.50" fill="#a09a8c"/>
<circle cx="307.5" cy="649.6" r="0.56" fill="#a09a8c"/>
<circle cx="308.2" cy="637.4" r="0.33" fill="#a09a8c"/>
<circle cx="311.5" cy="645.7" r="0.37" fill="#a09a8c"/>
<circle cx="311.5" cy="647.9" r="0.51" fill="#a09a8c"/>
<circle cx="310.9" cy="640.9" r="0.41" fill="#a09a8c"/>
<circle cx="310.9" cy="637.2" r="0.52" fill="#a09a8c"/>
<circle cx="303.9" cy="650.6" r="0.50" fill="#a09a8c"/>
<circle cx="311.5" cy="654.2" r="0.45" fill="#a09a8c"/>
<circle cx="304.8" cy="637.6" r="0.46" fill="#a09a8c"/>
<circle cx="307.6" cy="635.7" r="0.56" fill="#a09a8c"/>
<circle cx="307.6" cy="650.8" r="0.37" fill="#a09a8c"/>
<circle cx="305.2" cy="634.3" r="0.41" fill="#a09a8c"/>
<circle cx="305.4" cy="644.2" r="0.42" fill="#a09a8c"/>
<circle cx="310.5" cy="655.4" r="0.36" fill="#a09a8c"/>
<circle cx="306.6" cy="638.0" r="0.49" fill="#a09a8c"/>
<ellipse cx="234.1" cy="672" rx="4.8" ry="5.2" fill="#8c7c6e" opacity="0.85" transform="rotate(0 234.1 672)" /></g>
<line x1="290.0" y1="684.0" x2="312.4" y2="684.0" stroke="#111" stroke-width="1.0" />
<line x1="290.0" y1="682.5" x2="290.0" y2="685.5" stroke="#111" stroke-width="0.8" />
<line x1="312.4" y1="682.5" x2="312.4" y2="685.5" stroke="#111" stroke-width="0.8" />
<text x="301.7" y="681.8" font-size="4.8" text-anchor="middle" fill="#1a1a1a" font-weight="normal">200 µm</text>
</g>
<rect x="227.6" y="623.4" width="91.8" height="68.8" fill="none" stroke="#262626" stroke-width="1.3"/>
<clipPath id="cp53"><rect x="322" y="622.8" width="93" height="70"/></clipPath>
<g clip-path="url(#cp53)">
<rect x="322" y="622.8" width="93" height="70" fill="#d8bfcd"/>
<rect x="322" y="622.8" width="93" height="70" filter="url(#tCU)" opacity="0.8"/>
<g filter="url(#bl)"></g>
<line x1="384.3" y1="684.0" x2="406.8" y2="684.0" stroke="#111" stroke-width="1.0" />
<line x1="384.3" y1="682.5" x2="384.3" y2="685.5" stroke="#111" stroke-width="0.8" />
<line x1="406.8" y1="682.5" x2="406.8" y2="685.5" stroke="#111" stroke-width="0.8" />
<text x="396.05" y="681.8" font-size="4.8" text-anchor="middle" fill="#1a1a1a" font-weight="normal">100 µm</text>
</g>
<rect x="322.6" y="623.4" width="91.8" height="68.8" fill="none" stroke="#262626" stroke-width="1.3"/>
<rect x="255.3" y="284.4" width="45.89999999999998" height="35.10000000000002" fill="none" stroke="#1a1a1a" stroke-width="1.1" stroke-dasharray="3.2,2"/>
<line x1="301.2" y1="284.4" x2="322" y2="263.2" stroke="#1a1a1a" stroke-width="1.1" stroke-dasharray="3.2,2"/>
<line x1="301.2" y1="319.5" x2="322" y2="333.2" stroke="#1a1a1a" stroke-width="1.1" stroke-dasharray="3.2,2"/>
<rect x="265.1" y="351.2" width="46.19999999999999" height="35.10000000000002" fill="none" stroke="#1a1a1a" stroke-width="1.1" stroke-dasharray="3.2,2"/>
<line x1="311.3" y1="351.2" x2="322" y2="335.1" stroke="#1a1a1a" stroke-width="1.1" stroke-dasharray="3.2,2"/>
<line x1="311.3" y1="386.3" x2="322" y2="405.1" stroke="#1a1a1a" stroke-width="1.1" stroke-dasharray="3.2,2"/>
<rect x="248" y="433.6" width="46.5" height="34.5" fill="none" stroke="#1a1a1a" stroke-width="1.1" stroke-dasharray="3.2,2"/>
<line x1="294.5" y1="433.6" x2="322" y2="407.0" stroke="#1a1a1a" stroke-width="1.1" stroke-dasharray="3.2,2"/>
<line x1="294.5" y1="468.1" x2="322" y2="477.0" stroke="#1a1a1a" stroke-width="1.1" stroke-dasharray="3.2,2"/>
<rect x="262.3" y="495.2" width="46.19999999999999" height="34.50000000000006" fill="none" stroke="#1a1a1a" stroke-width="1.1" stroke-dasharray="3.2,2"/>
<line x1="308.5" y1="495.2" x2="322" y2="479.0" stroke="#1a1a1a" stroke-width="1.1" stroke-dasharray="3.2,2"/>
<line x1="308.5" y1="529.7" x2="322" y2="549.0" stroke="#1a1a1a" stroke-width="1.1" stroke-dasharray="3.2,2"/>
<rect x="262.3" y="564.4" width="46.19999999999999" height="34.200000000000045" fill="none" stroke="#1a1a1a" stroke-width="1.1" stroke-dasharray="3.2,2"/>
<line x1="308.5" y1="564.4" x2="322" y2="551.0" stroke="#1a1a1a" stroke-width="1.1" stroke-dasharray="3.2,2"/>
<line x1="308.5" y1="598.6" x2="322" y2="621.0" stroke="#1a1a1a" stroke-width="1.1" stroke-dasharray="3.2,2"/>
<rect x="248" y="646.2" width="46.5" height="34.5" fill="none" stroke="#1a1a1a" stroke-width="1.1" stroke-dasharray="3.2,2"/>
<line x1="294.5" y1="646.2" x2="322" y2="622.8" stroke="#1a1a1a" stroke-width="1.1" stroke-dasharray="3.2,2"/>
<line x1="294.5" y1="680.7" x2="322" y2="692.8" stroke="#1a1a1a" stroke-width="1.1" stroke-dasharray="3.2,2"/>
<text x="3" y="252.5" font-size="13" text-anchor="start" font-weight="bold" fill="#151515" >(C)</text>
<text x="84" y="254.5" font-size="10.5" text-anchor="middle" font-weight="bold" fill="#151515" >HE</text>
<text x="178.5" y="254.5" font-size="10.9" text-anchor="middle" font-weight="bold" fill="#151515" >Masson</text>
<text x="320.2" y="254.2" font-size="10.9" text-anchor="middle" font-weight="bold" fill="#151515" >Copper</text>
<text x="16" y="295.8" font-size="10.7" text-anchor="middle" font-weight="bold" fill="#151515" >sham</text>
<text x="16" y="309.4" font-size="10.7" text-anchor="middle" font-weight="bold" fill="#151515" >+ND</text>
<text x="16" y="367.70000000000005" font-size="10.7" text-anchor="middle" font-weight="bold" fill="#151515" >sham</text>
<text x="16" y="381.3" font-size="10.7" text-anchor="middle" font-weight="bold" fill="#151515" >+HCD</text>
<text x="16" y="439.6" font-size="10.7" text-anchor="middle" font-weight="bold" fill="#151515" >sham</text>
<text x="16" y="453.2" font-size="10.7" text-anchor="middle" font-weight="bold" fill="#151515" >+TTM</text>
<text x="16" y="511.6" font-size="10.7" text-anchor="middle" font-weight="bold" fill="#151515" >BDL</text>
<text x="16" y="525.2" font-size="10.7" text-anchor="middle" font-weight="bold" fill="#151515" >+ND</text>
<text x="16" y="583.6" font-size="10.7" text-anchor="middle" font-weight="bold" fill="#151515" >BDL</text>
<text x="16" y="597.2" font-size="10.7" text-anchor="middle" font-weight="bold" fill="#151515" >+HCD</text>
<text x="16" y="655.4" font-size="10.7" text-anchor="middle" font-weight="bold" fill="#151515" >BDL</text>
<text x="16" y="669.0" font-size="10.7" text-anchor="middle" font-weight="bold" fill="#151515" >+TTM</text>
<rect x="99.6" y="800.7" width="8.6" height="8.8" fill="#5b8fcc" stroke="#1c2636" stroke-width="1"/>
<rect x="111.7" y="782.1" width="8.6" height="27.4" fill="url(#orpat)" stroke="#3e3222" stroke-width="1"/>
<rect x="122.4" y="804.2" width="8.6" height="5.3" fill="#56b080" stroke="#1c3326" stroke-width="1"/>
<rect x="138.4" y="766.3" width="8.6" height="43.2" fill="#5b8fcc" stroke="#1c2636" stroke-width="1"/>
<rect x="149.9" y="748.6" width="8.6" height="60.9" fill="url(#orpat)" stroke="#3e3222" stroke-width="1"/>
<rect x="161.2" y="783.0" width="8.6" height="26.5" fill="#56b080" stroke="#1c3326" stroke-width="1"/>
<line x1="103.89999999999999" y1="798.1478672373617" x2="103.89999999999999" y2="803.2021327626383" stroke="#111" stroke-width="0.9" />
<line x1="101.89999999999999" y1="798.1478672373617" x2="105.89999999999999" y2="798.1478672373617" stroke="#111" stroke-width="0.9" />
<line x1="101.89999999999999" y1="803.2021327626383" x2="105.89999999999999" y2="803.2021327626383" stroke="#111" stroke-width="0.9" />
<circle cx="101.3" cy="796.4" r="2.2" fill="#5a8fd8" stroke="#1e1e1e" stroke-width="0.7"/>
<circle cx="105.7" cy="797.6" r="2.2" fill="#5a8fd8" stroke="#1e1e1e" stroke-width="0.7"/>
<circle cx="100.4" cy="802.1" r="2.2" fill="#5a8fd8" stroke="#1e1e1e" stroke-width="0.7"/>
<circle cx="103.4" cy="802.5" r="2.2" fill="#5a8fd8" stroke="#1e1e1e" stroke-width="0.7"/>
<circle cx="107.4" cy="801.6" r="2.2" fill="#5a8fd8" stroke="#1e1e1e" stroke-width="0.7"/>
<line x1="116.0" y1="777.2654517123572" x2="116.0" y2="787.0195482876429" stroke="#111" stroke-width="0.9" />
<line x1="114.0" y1="777.2654517123572" x2="118.0" y2="777.2654517123572" stroke="#111" stroke-width="0.9" />
<line x1="114.0" y1="787.0195482876429" x2="118.0" y2="787.0195482876429" stroke="#111" stroke-width="0.9" />
<circle cx="115.0" cy="774.5" r="2.2" fill="#f1b468" stroke="#1e1e1e" stroke-width="0.7"/>
<circle cx="112.2" cy="782.3" r="2.2" fill="#f1b468" stroke="#1e1e1e" stroke-width="0.7"/>
<circle cx="118.3" cy="782.3" r="2.2" fill="#f1b468" stroke="#1e1e1e" stroke-width="0.7"/>
<circle cx="114.5" cy="785.5" r="2.2" fill="#f1b468" stroke="#1e1e1e" stroke-width="0.7"/>
<circle cx="115.7" cy="789.3" r="2.2" fill="#f1b468" stroke="#1e1e1e" stroke-width="0.7"/>
<line x1="126.7" y1="802.3384523847488" x2="126.7" y2="806.0715476152512" stroke="#111" stroke-width="0.9" />
<line x1="124.7" y1="802.3384523847488" x2="128.7" y2="802.3384523847488" stroke="#111" stroke-width="0.9" />
<line x1="124.7" y1="806.0715476152512" x2="128.7" y2="806.0715476152512" stroke="#111" stroke-width="0.9" />
<circle cx="125.0" cy="801.6" r="2.2" fill="#5cc48f" stroke="#1e1e1e" stroke-width="0.7"/>
<circle cx="126.7" cy="805.1" r="2.2" fill="#5cc48f" stroke="#1e1e1e" stroke-width="0.7"/>
<circle cx="123.7" cy="806.0" r="2.2" fill="#5cc48f" stroke="#1e1e1e" stroke-width="0.7"/>
<circle cx="129.3" cy="805.1" r="2.2" fill="#5cc48f" stroke="#1e1e1e" stroke-width="0.7"/>
<circle cx="127.2" cy="807.2" r="2.2" fill="#5cc48f" stroke="#1e1e1e" stroke-width="0.7"/>
<line x1="142.70000000000002" y1="761.4040647904466" x2="142.70000000000002" y2="771.1109352095535" stroke="#111" stroke-width="0.9" />
<line x1="140.70000000000002" y1="761.4040647904466" x2="144.70000000000002" y2="761.4040647904466" stroke="#111" stroke-width="0.9" />
<line x1="140.70000000000002" y1="771.1109352095535" x2="144.70000000000002" y2="771.1109352095535" stroke="#111" stroke-width="0.9" />
<circle cx="140.2" cy="757.8" r="2.2" fill="#5a8fd8" stroke="#1e1e1e" stroke-width="0.7"/>
<circle cx="143.0" cy="761.3" r="2.2" fill="#5a8fd8" stroke="#1e1e1e" stroke-width="0.7"/>
<circle cx="142.5" cy="765.7" r="2.2" fill="#5a8fd8" stroke="#1e1e1e" stroke-width="0.7"/>
<circle cx="139.9" cy="769.2" r="2.2" fill="#5a8fd8" stroke="#1e1e1e" stroke-width="0.7"/>
<circle cx="145.1" cy="770.1" r="2.2" fill="#5a8fd8" stroke="#1e1e1e" stroke-width="0.7"/>
<circle cx="141.6" cy="771.0" r="2.2" fill="#5a8fd8" stroke="#1e1e1e" stroke-width="0.7"/>
<line x1="154.20000000000002" y1="745.8880229260839" x2="154.20000000000002" y2="751.326977073916" stroke="#111" stroke-width="0.9" />
<line x1="152.20000000000002" y1="745.8880229260839" x2="156.20000000000002" y2="745.8880229260839" stroke="#111" stroke-width="0.9" />
<line x1="152.20000000000002" y1="751.326977073916" x2="156.20000000000002" y2="751.326977073916" stroke="#111" stroke-width="0.9" />
<circle cx="151.2" cy="743.4" r="2.2" fill="#f1b468" stroke="#1e1e1e" stroke-width="0.7"/>
<circle cx="155.6" cy="745.9" r="2.2" fill="#f1b468" stroke="#1e1e1e" stroke-width="0.7"/>
<circle cx="153.5" cy="748.2" r="2.2" fill="#f1b468" stroke="#1e1e1e" stroke-width="0.7"/>
<circle cx="157.4" cy="748.2" r="2.2" fill="#f1b468" stroke="#1e1e1e" stroke-width="0.7"/>
<circle cx="152.1" cy="750.8" r="2.2" fill="#f1b468" stroke="#1e1e1e" stroke-width="0.7"/>
<circle cx="156.5" cy="751.3" r="2.2" fill="#f1b468" stroke="#1e1e1e" stroke-width="0.7"/>
<line x1="165.5" y1="780.3845454936696" x2="165.5" y2="785.6654545063303" stroke="#111" stroke-width="0.9" />
<line x1="163.5" y1="780.3845454936696" x2="167.5" y2="780.3845454936696" stroke="#111" stroke-width="0.9" />
<line x1="163.5" y1="785.6654545063303" x2="167.5" y2="785.6654545063303" stroke="#111" stroke-width="0.9" />
<circle cx="163.1" cy="780.1" r="2.2" fill="#5cc48f" stroke="#1e1e1e" stroke-width="0.7"/>
<circle cx="168.1" cy="780.1" r="2.2" fill="#5cc48f" stroke="#1e1e1e" stroke-width="0.7"/>
<circle cx="165.0" cy="782.8" r="2.2" fill="#5cc48f" stroke="#1e1e1e" stroke-width="0.7"/>
<circle cx="162.6" cy="786.0" r="2.2" fill="#5cc48f" stroke="#1e1e1e" stroke-width="0.7"/>
<circle cx="167.3" cy="786.0" r="2.2" fill="#5cc48f" stroke="#1e1e1e" stroke-width="0.7"/>
<line x1="95.7" y1="738.4" x2="95.7" y2="810.1" stroke="#1a1a1a" stroke-width="1.2" />
<line x1="95.10000000000001" y1="809.5" x2="174.4" y2="809.5" stroke="#1a1a1a" stroke-width="1.2" />
<line x1="87.0" y1="809.5" x2="95.7" y2="809.5" stroke="#1a1a1a" stroke-width="1.1" />
<text x="84.0" y="814.4" font-size="11" text-anchor="end" font-weight="bold" fill="#151515" >0</text>
<line x1="87.0" y1="791.85" x2="95.7" y2="791.85" stroke="#1a1a1a" stroke-width="1.1" />
<text x="84.0" y="796.75" font-size="11" text-anchor="end" font-weight="bold" fill="#151515" >10</text>
<line x1="87.0" y1="774.2" x2="95.7" y2="774.2" stroke="#1a1a1a" stroke-width="1.1" />
<text x="84.0" y="779.1" font-size="11" text-anchor="end" font-weight="bold" fill="#151515" >20</text>
<line x1="87.0" y1="756.55" x2="95.7" y2="756.55" stroke="#1a1a1a" stroke-width="1.1" />
<text x="84.0" y="761.4499999999999" font-size="11" text-anchor="end" font-weight="bold" fill="#151515" >30</text>
<line x1="87.0" y1="738.9" x2="95.7" y2="738.9" stroke="#1a1a1a" stroke-width="1.1" />
<text x="84.0" y="743.8" font-size="11" text-anchor="end" font-weight="bold" fill="#151515" >40</text>
<line x1="115.3" y1="809.5" x2="115.3" y2="817.3" stroke="#1a1a1a" stroke-width="1.1" />
<text x="115.3" y="829.3" font-size="10.5" text-anchor="middle" font-weight="bold" fill="#151515" >sham</text>
<line x1="153.5" y1="809.5" x2="153.5" y2="817.3" stroke="#1a1a1a" stroke-width="1.1" />
<text x="153.5" y="829.3" font-size="10.5" text-anchor="middle" font-weight="bold" fill="#151515" >BDL</text>
<text transform="translate(51.2,770.5) rotate(-90)" font-size="10.7" text-anchor="middle" font-weight="bold" fill="#151515">Collagen volume</text>
<text transform="translate(64.6,770.5) rotate(-90)" font-size="10.7" text-anchor="middle" font-weight="bold" fill="#151515">fraction (%)</text>
<path d="M104.8,785.8 L104.8,711.9 L142.6,711.9 L142.6,716.6" fill="none" stroke="#4a4a4a" stroke-width="1.1"/>
<text x="124.4" y="709.1" font-size="9.6" text-anchor="middle" font-weight="bold" fill="#151515" >&lt; 0.0001</text>
<path d="M142.6,726.5 L142.6,724.0 L165.8,724.0 L165.8,726.5" fill="none" stroke="#4a4a4a" stroke-width="1.1"/>
<text x="154.9" y="721.3" font-size="9.6" text-anchor="middle" font-weight="bold" fill="#151515" >&lt; 0.0001</text>
<path d="M142.6,753.6 L142.6,737.5 L154.2,737.5 L154.2,739.4" fill="none" stroke="#4a4a4a" stroke-width="1.1"/>
<text x="149.2" y="734.4" font-size="9.6" text-anchor="middle" font-weight="bold" fill="#151515" >&lt; 0.0001</text>
<rect x="251.3" y="801.5" width="8.6" height="7.1" fill="#5b8fcc" stroke="#1c2636" stroke-width="1"/>
<rect x="262.4" y="785.0" width="8.6" height="23.6" fill="url(#orpat)" stroke="#3e3222" stroke-width="1"/>
<rect x="273.7" y="805.1" width="8.6" height="3.5" fill="#56b080" stroke="#1c3326" stroke-width="1"/>
<rect x="289.6" y="782.6" width="8.6" height="26.0" fill="#5b8fcc" stroke="#1c2636" stroke-width="1"/>
<rect x="301.2" y="756.0" width="8.6" height="52.6" fill="url(#orpat)" stroke="#3e3222" stroke-width="1"/>
<rect x="312.3" y="793.3" width="8.6" height="15.3" fill="#56b080" stroke="#1c3326" stroke-width="1"/>
<line x1="255.60000000000002" y1="798.1172951935262" x2="255.60000000000002" y2="804.9227048064738" stroke="#111" stroke-width="0.9" />
<line x1="253.60000000000002" y1="798.1172951935262" x2="257.6" y2="798.1172951935262" stroke="#111" stroke-width="0.9" />
<line x1="253.60000000000002" y1="804.9227048064738" x2="257.6" y2="804.9227048064738" stroke="#111" stroke-width="0.9" />
<circle cx="252.7" cy="797.2" r="2.2" fill="#5a8fd8" stroke="#1e1e1e" stroke-width="0.7"/>
<circle cx="257.4" cy="799.0" r="2.2" fill="#5a8fd8" stroke="#1e1e1e" stroke-width="0.7"/>
<circle cx="254.8" cy="802.5" r="2.2" fill="#5a8fd8" stroke="#1e1e1e" stroke-width="0.7"/>
<circle cx="252.2" cy="806.0" r="2.2" fill="#5a8fd8" stroke="#1e1e1e" stroke-width="0.7"/>
<circle cx="258.3" cy="805.1" r="2.2" fill="#5a8fd8" stroke="#1e1e1e" stroke-width="0.7"/>
<line x1="266.7" y1="778.2459197517353" x2="266.7" y2="791.7540802482647" stroke="#111" stroke-width="0.9" />
<line x1="264.7" y1="778.2459197517353" x2="268.7" y2="778.2459197517353" stroke="#111" stroke-width="0.9" />
<line x1="264.7" y1="791.7540802482647" x2="268.7" y2="791.7540802482647" stroke="#111" stroke-width="0.9" />
<circle cx="264.5" cy="776.2" r="2.2" fill="#f1b468" stroke="#1e1e1e" stroke-width="0.7"/>
<circle cx="269.2" cy="779.4" r="2.2" fill="#f1b468" stroke="#1e1e1e" stroke-width="0.7"/>
<circle cx="266.2" cy="785.5" r="2.2" fill="#f1b468" stroke="#1e1e1e" stroke-width="0.7"/>
<circle cx="267.1" cy="790.2" r="2.2" fill="#f1b468" stroke="#1e1e1e" stroke-width="0.7"/>
<circle cx="266.7" cy="794.6" r="2.2" fill="#f1b468" stroke="#1e1e1e" stroke-width="0.7"/>
<line x1="278.0" y1="803.8744199731777" x2="278.0" y2="806.2455800268224" stroke="#111" stroke-width="0.9" />
<line x1="276.0" y1="803.8744199731777" x2="280.0" y2="803.8744199731777" stroke="#111" stroke-width="0.9" />
<line x1="276.0" y1="806.2455800268224" x2="280.0" y2="806.2455800268224" stroke="#111" stroke-width="0.9" />
<circle cx="275.8" cy="803.4" r="2.2" fill="#5cc48f" stroke="#1e1e1e" stroke-width="0.7"/>
<circle cx="278.5" cy="805.1" r="2.2" fill="#5cc48f" stroke="#1e1e1e" stroke-width="0.7"/>
<circle cx="280.2" cy="806.0" r="2.2" fill="#5cc48f" stroke="#1e1e1e" stroke-width="0.7"/>
<circle cx="275.0" cy="806.0" r="2.2" fill="#5cc48f" stroke="#1e1e1e" stroke-width="0.7"/>
<circle cx="277.6" cy="806.9" r="2.2" fill="#5cc48f" stroke="#1e1e1e" stroke-width="0.7"/>
<line x1="293.90000000000003" y1="780.6520362176337" x2="293.90000000000003" y2="784.6279637823662" stroke="#111" stroke-width="0.9" />
<line x1="291.90000000000003" y1="780.6520362176337" x2="295.90000000000003" y2="780.6520362176337" stroke="#111" stroke-width="0.9" />
<line x1="291.90000000000003" y1="784.6279637823662" x2="295.90000000000003" y2="784.6279637823662" stroke="#111" stroke-width="0.9" />
<circle cx="291.3" cy="782.3" r="2.2" fill="#5a8fd8" stroke="#1e1e1e" stroke-width="0.7"/>
<circle cx="294.8" cy="781.5" r="2.2" fill="#5a8fd8" stroke="#1e1e1e" stroke-width="0.7"/>
<circle cx="296.9" cy="783.7" r="2.2" fill="#5a8fd8" stroke="#1e1e1e" stroke-width="0.7"/>
<circle cx="292.5" cy="785.8" r="2.2" fill="#5a8fd8" stroke="#1e1e1e" stroke-width="0.7"/>
<circle cx="296.0" cy="786.7" r="2.2" fill="#5a8fd8" stroke="#1e1e1e" stroke-width="0.7"/>
<line x1="305.5" y1="751.0838919815536" x2="305.5" y2="760.8601080184463" stroke="#111" stroke-width="0.9" />
<line x1="303.5" y1="751.0838919815536" x2="307.5" y2="751.0838919815536" stroke="#111" stroke-width="0.9" />
<line x1="303.5" y1="760.8601080184463" x2="307.5" y2="760.8601080184463" stroke="#111" stroke-width="0.9" />
<circle cx="303.5" cy="751.7" r="2.2" fill="#f1b468" stroke="#1e1e1e" stroke-width="0.7"/>
<circle cx="307.4" cy="752.6" r="2.2" fill="#f1b468" stroke="#1e1e1e" stroke-width="0.7"/>
<circle cx="304.8" cy="756.9" r="2.2" fill="#f1b468" stroke="#1e1e1e" stroke-width="0.7"/>
<circle cx="305.6" cy="760.4" r="2.2" fill="#f1b468" stroke="#1e1e1e" stroke-width="0.7"/>
<circle cx="305.3" cy="764.8" r="2.2" fill="#f1b468" stroke="#1e1e1e" stroke-width="0.7"/>
<line x1="316.6" y1="789.5381724919067" x2="316.6" y2="796.9818275080933" stroke="#111" stroke-width="0.9" />
<line x1="314.6" y1="789.5381724919067" x2="318.6" y2="789.5381724919067" stroke="#111" stroke-width="0.9" />
<line x1="314.6" y1="796.9818275080933" x2="318.6" y2="796.9818275080933" stroke="#111" stroke-width="0.9" />
<circle cx="314.2" cy="787.5" r="2.2" fill="#5cc48f" stroke="#1e1e1e" stroke-width="0.7"/>
<circle cx="318.9" cy="789.1" r="2.2" fill="#5cc48f" stroke="#1e1e1e" stroke-width="0.7"/>
<circle cx="315.7" cy="791.5" r="2.2" fill="#5cc48f" stroke="#1e1e1e" stroke-width="0.7"/>
<circle cx="318.1" cy="794.6" r="2.2" fill="#5cc48f" stroke="#1e1e1e" stroke-width="0.7"/>
<circle cx="314.2" cy="797.8" r="2.2" fill="#5cc48f" stroke="#1e1e1e" stroke-width="0.7"/>
<line x1="246.4" y1="737.3000000000001" x2="246.4" y2="809.2" stroke="#1a1a1a" stroke-width="1.2" />
<line x1="245.8" y1="808.6" x2="326.0" y2="808.6" stroke="#1a1a1a" stroke-width="1.2" />
<line x1="238.2" y1="808.6" x2="246.4" y2="808.6" stroke="#1a1a1a" stroke-width="1.1" />
<text x="235.2" y="813.5" font-size="11" text-anchor="end" font-weight="bold" fill="#151515" >0</text>
<line x1="238.2" y1="785.0" x2="246.4" y2="785.0" stroke="#1a1a1a" stroke-width="1.1" />
<text x="235.2" y="789.9" font-size="11" text-anchor="end" font-weight="bold" fill="#151515" >10</text>
<line x1="238.2" y1="761.4" x2="246.4" y2="761.4" stroke="#1a1a1a" stroke-width="1.1" />
<text x="235.2" y="766.3" font-size="11" text-anchor="end" font-weight="bold" fill="#151515" >20</text>
<line x1="238.2" y1="737.8000000000001" x2="246.4" y2="737.8000000000001" stroke="#1a1a1a" stroke-width="1.1" />
<text x="235.2" y="742.7" font-size="11" text-anchor="end" font-weight="bold" fill="#151515" >30</text>
<line x1="266.6" y1="808.6" x2="266.6" y2="816.4" stroke="#1a1a1a" stroke-width="1.1" />
<text x="266.6" y="829.3" font-size="10.5" text-anchor="middle" font-weight="bold" fill="#151515" >sham</text>
<line x1="305.1" y1="808.6" x2="305.1" y2="816.4" stroke="#1a1a1a" stroke-width="1.1" />
<text x="305.1" y="829.3" font-size="10.5" text-anchor="middle" font-weight="bold" fill="#151515" >BDL</text>
<text transform="translate(205.0,770.5) rotate(-90)" font-size="10.7" text-anchor="middle" font-weight="bold" fill="#151515">Copper volume</text>
<text transform="translate(217.3,770.5) rotate(-90)" font-size="10.7" text-anchor="middle" font-weight="bold" fill="#151515">fraction (%)</text>
<path d="M255.3,785.8 L255.3,715.4 L294.2,715.4 L294.2,719.3" fill="none" stroke="#4a4a4a" stroke-width="1.1"/>
<text x="277.2" y="713.7" font-size="9.6" text-anchor="middle" font-weight="bold" fill="#151515" >&lt; 0.0001</text>
<path d="M293.7,732.3 L293.7,729.2 L316.5,729.2 L316.5,732.3" fill="none" stroke="#4a4a4a" stroke-width="1.1"/>
<text x="306.0" y="726.8" font-size="9.6" text-anchor="middle" font-weight="bold" fill="#151515" >0.0114</text>
<path d="M293.7,776.5 L293.7,743.4 L305.5,743.4 L305.5,745.7" fill="none" stroke="#4a4a4a" stroke-width="1.1"/>
<text x="300.5" y="741.3" font-size="9.6" text-anchor="middle" font-weight="bold" fill="#151515" >&lt; 0.0001</text>
<circle cx="355.8" cy="734.1" r="2.4" fill="#5a8fd8" stroke="#1e1e1e" stroke-width="0.7"/>
<text x="369.0" y="737.6" font-size="9.5" text-anchor="start" font-weight="bold" fill="#151515" >ND</text>
<circle cx="355.8" cy="754.4" r="2.4" fill="#f1b468" stroke="#1e1e1e" stroke-width="0.7"/>
<text x="369.0" y="757.5" font-size="9.5" text-anchor="start" font-weight="bold" fill="#151515" >HCD</text>
<circle cx="355.8" cy="774.6" r="2.4" fill="#5cc48f" stroke="#1e1e1e" stroke-width="0.7"/>
<text x="369.0" y="777.7" font-size="9.5" text-anchor="start" font-weight="bold" fill="#151515" >TTM</text>
<defs><pattern id="orpat" x="0" y="0" width="3" height="3" patternUnits="userSpaceOnUse">
<rect width="3" height="3" fill="#eeb26c"/><rect width="3" height="0.8" fill="#f4c88e"/><rect width="0.8" height="3" fill="#f2c084"/></pattern></defs>
<text x="423" y="253.8" font-size="13" text-anchor="start" font-weight="bold" fill="#151515" >(D)</text>
<text x="514.5" y="261.2" font-size="10.5" text-anchor="middle" font-weight="bold" fill="#151515" >sham</text>
<text x="603.8" y="261.1" font-size="10.5" text-anchor="middle" font-weight="bold" fill="#151515" >BDL</text>
<line x1="477.8" y1="266.1" x2="553.3" y2="266.1" stroke="#9a9a9a" stroke-width="1.3" />
<line x1="567.9" y1="265.9" x2="641.5" y2="265.9" stroke="#9a9a9a" stroke-width="1.3" />
<text x="485.3" y="278.8" font-size="10.5" text-anchor="middle" font-weight="bold" fill="#151515" >ND</text>
<text x="514.5" y="278.8" font-size="10.5" text-anchor="middle" font-weight="bold" fill="#151515" >HCD</text>
<text x="543.0" y="278.8" font-size="10.5" text-anchor="middle" font-weight="bold" fill="#151515" >TTM</text>
<text x="573.9" y="278.8" font-size="10.5" text-anchor="middle" font-weight="bold" fill="#151515" >ND</text>
<text x="603.0" y="278.8" font-size="10.5" text-anchor="middle" font-weight="bold" fill="#151515" >HCD</text>
<text x="632.8" y="278.8" font-size="10.5" text-anchor="middle" font-weight="bold" fill="#151515" >TTM</text>
<text x="657" y="279.7" font-size="10.3" text-anchor="start" font-weight="bold" fill="#151515" >kDa</text>
<defs><filter id="bb" x="-20%" y="-100%" width="140%" height="300%"><feGaussianBlur stdDeviation="0.85 0.6"/></filter></defs>
<rect x="469.6" y="289.6" width="178.6" height="22.8" fill="#fcfcfc" stroke="#2a2a2a" stroke-width="1.1"/>
<text x="447" y="303.9" font-size="10.8" text-anchor="middle" font-weight="bold" fill="#151515" >DLAT</text>
<text x="658.6" y="303.8" font-size="10.5" text-anchor="start" font-weight="bold" fill="#151515" >70</text>
<rect x="469.6" y="322.40000000000003" width="178.6" height="22.8" fill="#fcfcfc" stroke="#2a2a2a" stroke-width="1.1"/>
<text x="447" y="336.7" font-size="10.8" text-anchor="middle" font-weight="bold" fill="#151515" >DLST</text>
<text x="658.6" y="336.6" font-size="10.5" text-anchor="start" font-weight="bold" fill="#151515" >49</text>
<rect x="469.6" y="355.3" width="178.6" height="22.8" fill="#fcfcfc" stroke="#2a2a2a" stroke-width="1.1"/>
<text x="447" y="369.59999999999997" font-size="10.8" text-anchor="middle" font-weight="bold" fill="#151515" >LIAS</text>
<text x="658.6" y="369.5" font-size="10.5" text-anchor="start" font-weight="bold" fill="#151515" >40</text>
<rect x="469.6" y="388.20000000000005" width="178.6" height="22.8" fill="#fcfcfc" stroke="#2a2a2a" stroke-width="1.1"/>
<text x="447" y="402.5" font-size="10.8" text-anchor="middle" font-weight="bold" fill="#151515" >FDX1</text>
<text x="658.6" y="402.40000000000003" font-size="10.5" text-anchor="start" font-weight="bold" fill="#151515" >13</text>
<rect x="469.6" y="421.1" width="178.6" height="22.8" fill="#fcfcfc" stroke="#2a2a2a" stroke-width="1.1"/>
<text x="447" y="435.4" font-size="10.8" text-anchor="middle" font-weight="bold" fill="#151515" >β-Actin</text>
<text x="658.6" y="435.3" font-size="10.5" text-anchor="start" font-weight="bold" fill="#151515" >42</text>
<g filter="url(#bb)">
<rect x="472.40000000000003" y="297.5" width="25.8" height="5.6" rx="1.75" fill="#060606" opacity="1"/>
<rect x="501.6" y="297.5" width="25.8" height="5.6" rx="1.75" fill="#060606" opacity="1"/>
<rect x="530.1" y="297.5" width="25.8" height="5.6" rx="1.75" fill="#060606" opacity="1"/>
<rect x="559.7" y="297.7" width="25.8" height="5.2" rx="1.62" fill="#060606" opacity="1"/>
<rect x="588.9" y="298.1" width="25.8" height="4.4" rx="1.38" fill="#060606" opacity="0.8"/>
<rect x="618.5" y="297.5" width="25.8" height="5.6" rx="1.75" fill="#060606" opacity="1"/>
<rect x="472.40000000000003" y="330.59999999999997" width="25.8" height="4.6" rx="1.44" fill="#060606" opacity="1"/>
<rect x="501.6" y="330.7" width="25.8" height="4.4" rx="1.38" fill="#060606" opacity="0.95"/>
<rect x="530.1" y="330.5" width="25.8" height="4.8" rx="1.50" fill="#060606" opacity="1"/>
<rect x="559.7" y="331.0" width="25.8" height="3.8" rx="1.19" fill="#060606" opacity="0.95"/>
<rect x="588.9" y="331.2" width="25.8" height="3.4" rx="1.06" fill="#060606" opacity="0.8"/>
<rect x="618.5" y="330.5" width="25.8" height="4.8" rx="1.50" fill="#060606" opacity="1"/>
<rect x="472.40000000000003" y="337.2" width="25.8" height="3.4" rx="1.06" fill="#060606" opacity="0.5"/>
<rect x="501.6" y="337.29999999999995" width="25.8" height="3.2" rx="1.00" fill="#060606" opacity="0.45"/>
<rect x="530.1" y="337.09999999999997" width="25.8" height="3.6" rx="1.12" fill="#060606" opacity="0.55"/>
<rect x="559.7" y="337.4" width="25.8" height="3.0" rx="0.94" fill="#060606" opacity="0.22"/>
<rect x="588.9" y="337.5" width="25.8" height="2.8" rx="0.87" fill="#060606" opacity="0.16"/>
<rect x="618.5" y="337.2" width="25.8" height="3.4" rx="1.06" fill="#060606" opacity="0.45"/>
<rect x="472.40000000000003" y="361.09999999999997" width="25.8" height="2.6" rx="0.81" fill="#060606" opacity="0.26"/>
<rect x="501.6" y="361.09999999999997" width="25.8" height="2.6" rx="0.81" fill="#060606" opacity="0.24"/>
<rect x="530.1" y="361.09999999999997" width="25.8" height="2.6" rx="0.81" fill="#060606" opacity="0.28"/>
<rect x="559.7" y="361.09999999999997" width="25.8" height="2.6" rx="0.81" fill="#060606" opacity="0.26"/>
<rect x="588.9" y="361.09999999999997" width="25.8" height="2.6" rx="0.81" fill="#060606" opacity="0.18"/>
<rect x="618.5" y="361.09999999999997" width="25.8" height="2.6" rx="0.81" fill="#060606" opacity="0.22"/>
<rect x="472.40000000000003" y="365.7" width="25.8" height="5.2" rx="1.62" fill="#060606" opacity="1"/>
<rect x="501.6" y="365.7" width="25.8" height="5.2" rx="1.62" fill="#060606" opacity="1"/>
<rect x="530.1" y="365.6" width="25.8" height="5.4" rx="1.69" fill="#060606" opacity="1"/>
<rect x="559.7" y="366.1" width="25.8" height="4.4" rx="1.38" fill="#060606" opacity="0.95"/>
<rect x="588.9" y="366.40000000000003" width="25.8" height="3.8" rx="1.19" fill="#060606" opacity="0.82"/>
<rect x="618.5" y="366.0" width="25.8" height="4.6" rx="1.44" fill="#060606" opacity="1"/>
<rect x="472.40000000000003" y="396.6" width="25.8" height="6.8" rx="2.12" fill="#060606" opacity="1"/>
<rect x="501.6" y="396.7" width="25.8" height="6.6" rx="2.06" fill="#060606" opacity="1"/>
<rect x="530.1" y="396.5" width="25.8" height="7.0" rx="2.19" fill="#060606" opacity="1"/>
<rect x="559.7" y="396.8" width="25.8" height="6.4" rx="2.00" fill="#060606" opacity="1"/>
<rect x="588.9" y="397.2" width="25.8" height="5.6" rx="1.75" fill="#060606" opacity="0.95"/>
<rect x="618.5" y="396.5" width="25.8" height="7.0" rx="2.19" fill="#060606" opacity="1"/>
<rect x="472.40000000000003" y="429.79999999999995" width="25.8" height="4.2" rx="1.31" fill="#060606" opacity="1"/>
<rect x="501.6" y="429.79999999999995" width="25.8" height="4.2" rx="1.31" fill="#060606" opacity="1"/>
<rect x="530.1" y="429.79999999999995" width="25.8" height="4.2" rx="1.31" fill="#060606" opacity="1"/>
<rect x="559.7" y="429.7" width="25.8" height="4.4" rx="1.38" fill="#060606" opacity="1"/>
<rect x="588.9" y="429.79999999999995" width="25.8" height="4.2" rx="1.31" fill="#060606" opacity="1"/>
<rect x="618.5" y="429.79999999999995" width="25.8" height="4.2" rx="1.31" fill="#060606" opacity="1"/>
<rect x="472.40000000000003" y="435.0" width="25.8" height="3.2" rx="1.00" fill="#060606" opacity="0.36"/>
<rect x="501.6" y="435.0" width="25.8" height="3.2" rx="1.00" fill="#060606" opacity="0.33"/>
<rect x="530.1" y="435.0" width="25.8" height="3.2" rx="1.00" fill="#060606" opacity="0.33"/>
<rect x="559.7" y="435.0" width="25.8" height="3.2" rx="1.00" fill="#060606" opacity="0.38"/>
<rect x="588.9" y="435.0" width="25.8" height="3.2" rx="1.00" fill="#060606" opacity="0.33"/>
<rect x="618.5" y="435.0" width="25.8" height="3.2" rx="1.00" fill="#060606" opacity="0.33"/>
</g>
<circle cx="504.0" cy="468.4" r="2.3" fill="#5a8fd8" stroke="#1e1e1e" stroke-width="0.7"/>
<text x="512.8" y="471.5" font-size="9.4" text-anchor="start" font-weight="bold" fill="#151515" >ND</text>
<circle cx="544.4" cy="468.4" r="2.3" fill="#f1b468" stroke="#1e1e1e" stroke-width="0.7"/>
<text x="553.6" y="471.5" font-size="9.4" text-anchor="start" font-weight="bold" fill="#151515" >HCD</text>
<circle cx="592.4" cy="468.4" r="2.3" fill="#5cc48f" stroke="#1e1e1e" stroke-width="0.7"/>
<text x="601.4" y="471.5" font-size="9.4" text-anchor="start" font-weight="bold" fill="#151515" >TTM</text>
<rect x="475.0" y="553.7" width="8.8" height="70.8" fill="#5b8fcc" stroke="#1c2636" stroke-width="1"/>
<rect x="486.4" y="560.1" width="8.8" height="64.4" fill="url(#orpat)" stroke="#3e3222" stroke-width="1"/>
<rect x="497.8" y="559.4" width="8.8" height="65.1" fill="#56b080" stroke="#1c3326" stroke-width="1"/>
<rect x="513.8" y="569.3" width="8.8" height="55.2" fill="#5b8fcc" stroke="#1c2636" stroke-width="1"/>
<rect x="525.0" y="586.3" width="8.8" height="38.2" fill="url(#orpat)" stroke="#3e3222" stroke-width="1"/>
<rect x="536.3" y="558.7" width="8.8" height="65.8" fill="#56b080" stroke="#1c3326" stroke-width="1"/>
<circle cx="476.8" cy="553.8" r="2.2" fill="#5a8fd8" stroke="#1e1e1e" stroke-width="0.7"/>
<circle cx="479.4" cy="553.8" r="2.2" fill="#5a8fd8" stroke="#1e1e1e" stroke-width="0.7"/>
<circle cx="482.0" cy="553.8" r="2.2" fill="#5a8fd8" stroke="#1e1e1e" stroke-width="0.7"/>
<line x1="490.79999999999995" y1="556.4372525687623" x2="490.79999999999995" y2="563.7067474312377" stroke="#111" stroke-width="0.9" />
<line x1="488.79999999999995" y1="556.4372525687623" x2="492.79999999999995" y2="556.4372525687623" stroke="#111" stroke-width="0.9" />
<line x1="488.79999999999995" y1="563.7067474312377" x2="492.79999999999995" y2="563.7067474312377" stroke="#111" stroke-width="0.9" />
<circle cx="488.5" cy="554.6" r="2.2" fill="#f1b468" stroke="#1e1e1e" stroke-width="0.7"/>
<circle cx="493.9" cy="557.5" r="2.2" fill="#f1b468" stroke="#1e1e1e" stroke-width="0.7"/>
<circle cx="489.9" cy="559.0" r="2.2" fill="#f1b468" stroke="#1e1e1e" stroke-width="0.7"/>
<circle cx="493.6" cy="561.9" r="2.2" fill="#f1b468" stroke="#1e1e1e" stroke-width="0.7"/>
<circle cx="487.7" cy="564.1" r="2.2" fill="#f1b468" stroke="#1e1e1e" stroke-width="0.7"/>
<circle cx="492.8" cy="564.8" r="2.2" fill="#f1b468" stroke="#1e1e1e" stroke-width="0.7"/>
<line x1="502.2" y1="551.3133271502729" x2="502.2" y2="567.4146728497271" stroke="#111" stroke-width="0.9" />
<line x1="500.2" y1="551.3133271502729" x2="504.2" y2="551.3133271502729" stroke="#111" stroke-width="0.9" />
<line x1="500.2" y1="567.4146728497271" x2="504.2" y2="567.4146728497271" stroke="#111" stroke-width="0.9" />
<circle cx="503.8" cy="548.0" r="2.2" fill="#5cc48f" stroke="#1e1e1e" stroke-width="0.7"/>
<circle cx="499.4" cy="551.7" r="2.2" fill="#5cc48f" stroke="#1e1e1e" stroke-width="0.7"/>
<circle cx="505.0" cy="557.2" r="2.2" fill="#5cc48f" stroke="#1e1e1e" stroke-width="0.7"/>
<circle cx="499.1" cy="561.2" r="2.2" fill="#5cc48f" stroke="#1e1e1e" stroke-width="0.7"/>
<circle cx="502.3" cy="566.3" r="2.2" fill="#5cc48f" stroke="#1e1e1e" stroke-width="0.7"/>
<circle cx="502.3" cy="571.4" r="2.2" fill="#5cc48f" stroke="#1e1e1e" stroke-width="0.7"/>
<line x1="518.1999999999999" y1="562.5994864387666" x2="518.1999999999999" y2="575.9525135612333" stroke="#111" stroke-width="0.9" />
<line x1="516.1999999999999" y1="562.5994864387666" x2="520.1999999999999" y2="562.5994864387666" stroke="#111" stroke-width="0.9" />
<line x1="516.1999999999999" y1="575.9525135612333" x2="520.1999999999999" y2="575.9525135612333" stroke="#111" stroke-width="0.9" />
<circle cx="518.1" cy="561.2" r="2.2" fill="#5a8fd8" stroke="#1e1e1e" stroke-width="0.7"/>
<circle cx="515.5" cy="569.9" r="2.2" fill="#5a8fd8" stroke="#1e1e1e" stroke-width="0.7"/>
<circle cx="520.6" cy="569.9" r="2.2" fill="#5a8fd8" stroke="#1e1e1e" stroke-width="0.7"/>
<circle cx="517.7" cy="572.8" r="2.2" fill="#5a8fd8" stroke="#1e1e1e" stroke-width="0.7"/>
<circle cx="519.9" cy="578.0" r="2.2" fill="#5a8fd8" stroke="#1e1e1e" stroke-width="0.7"/>
<circle cx="516.2" cy="582.3" r="2.2" fill="#5a8fd8" stroke="#1e1e1e" stroke-width="0.7"/>
<line x1="529.4" y1="582.0227084905746" x2="529.4" y2="590.5132915094255" stroke="#111" stroke-width="0.9" />
<line x1="527.4" y1="582.0227084905746" x2="531.4" y2="582.0227084905746" stroke="#111" stroke-width="0.9" />
<line x1="527.4" y1="590.5132915094255" x2="531.4" y2="590.5132915094255" stroke="#111" stroke-width="0.9" />
<circle cx="528.6" cy="580.1" r="2.2" fill="#f1b468" stroke="#1e1e1e" stroke-width="0.7"/>
<circle cx="530.8" cy="580.9" r="2.2" fill="#f1b468" stroke="#1e1e1e" stroke-width="0.7"/>
<circle cx="526.4" cy="586.7" r="2.2" fill="#f1b468" stroke="#1e1e1e" stroke-width="0.7"/>
<circle cx="531.5" cy="589.6" r="2.2" fill="#f1b468" stroke="#1e1e1e" stroke-width="0.7"/>
<circle cx="527.2" cy="591.4" r="2.2" fill="#f1b468" stroke="#1e1e1e" stroke-width="0.7"/>
<circle cx="529.3" cy="588.2" r="2.2" fill="#f1b468" stroke="#1e1e1e" stroke-width="0.7"/>
<line x1="540.6999999999999" y1="551.796728901698" x2="540.6999999999999" y2="565.5152710983019" stroke="#111" stroke-width="0.9" />
<line x1="538.6999999999999" y1="551.796728901698" x2="542.6999999999999" y2="551.796728901698" stroke="#111" stroke-width="0.9" />
<line x1="538.6999999999999" y1="565.5152710983019" x2="542.6999999999999" y2="565.5152710983019" stroke="#111" stroke-width="0.9" />
<circle cx="538.8" cy="553.9" r="2.2" fill="#5cc48f" stroke="#1e1e1e" stroke-width="0.7"/>
<circle cx="542.5" cy="554.6" r="2.2" fill="#5cc48f" stroke="#1e1e1e" stroke-width="0.7"/>
<circle cx="540.3" cy="556.1" r="2.2" fill="#5cc48f" stroke="#1e1e1e" stroke-width="0.7"/>
<circle cx="540.0" cy="566.3" r="2.2" fill="#5cc48f" stroke="#1e1e1e" stroke-width="0.7"/>
<circle cx="540.3" cy="570.7" r="2.2" fill="#5cc48f" stroke="#1e1e1e" stroke-width="0.7"/>
<line x1="470.7" y1="517.8" x2="470.7" y2="625.1" stroke="#1a1a1a" stroke-width="1.2" />
<line x1="470.09999999999997" y1="624.5" x2="549.8" y2="624.5" stroke="#1a1a1a" stroke-width="1.2" />
<line x1="462.9" y1="624.5" x2="470.7" y2="624.5" stroke="#1a1a1a" stroke-width="1.1" />
<text x="459.9" y="628.4" font-size="10.5" text-anchor="end" font-weight="bold" fill="#151515" >0.0</text>
<line x1="462.9" y1="589.1" x2="470.7" y2="589.1" stroke="#1a1a1a" stroke-width="1.1" />
<text x="459.9" y="593.0" font-size="10.5" text-anchor="end" font-weight="bold" fill="#151515" >0.5</text>
<line x1="462.9" y1="553.7" x2="470.7" y2="553.7" stroke="#1a1a1a" stroke-width="1.1" />
<text x="459.9" y="557.6" font-size="10.5" text-anchor="end" font-weight="bold" fill="#151515" >1.0</text>
<line x1="462.9" y1="518.3" x2="470.7" y2="518.3" stroke="#1a1a1a" stroke-width="1.1" />
<text x="459.9" y="522.1999999999999" font-size="10.5" text-anchor="end" font-weight="bold" fill="#151515" >1.5</text>
<line x1="490.5" y1="624.5" x2="490.5" y2="632.3" stroke="#1a1a1a" stroke-width="1.1" />
<text x="490.5" y="644.4" font-size="10.5" text-anchor="middle" font-weight="bold" fill="#151515" >sham</text>
<line x1="528.9" y1="624.5" x2="528.9" y2="632.3" stroke="#1a1a1a" stroke-width="1.1" />
<text x="528.9" y="644.4" font-size="10.5" text-anchor="middle" font-weight="bold" fill="#151515" >BDL</text>
<text transform="translate(435.8,566.5) rotate(-90)" font-size="10.8" text-anchor="middle" font-weight="bold" fill="#151515">Rel. DLAT protein levels</text>
<path d="M479.3,541.4 L479.3,492.4 L518.1,492.4 L518.1,501.2" fill="none" stroke="#4a4a4a" stroke-width="1.1"/>
<text x="497.9" y="489.3" font-size="9.4" text-anchor="middle" font-weight="bold" fill="#151515" >&lt; 0.0001</text>
<path d="M518.1,524.0 L518.1,515.9 L540.6,515.9 L540.6,524.0" fill="none" stroke="#4a4a4a" stroke-width="1.1"/>
<text x="529.6" y="512.8" font-size="9.4" text-anchor="middle" font-weight="bold" fill="#151515" >0.0021</text>
<path d="M518.1,548.6 L518.1,538.8 L528.9,538.8 L528.9,569.0" fill="none" stroke="#4a4a4a" stroke-width="1.1"/>
<text x="524.2" y="535.7" font-size="9.4" text-anchor="middle" font-weight="bold" fill="#151515" >0.0016</text>
<rect x="608.6" y="553.9" width="8.7" height="70.4" fill="#5b8fcc" stroke="#1c2636" stroke-width="1"/>
<rect x="620.2" y="560.2" width="8.7" height="64.1" fill="url(#orpat)" stroke="#3e3222" stroke-width="1"/>
<rect x="631.5" y="553.2" width="8.7" height="71.1" fill="#56b080" stroke="#1c3326" stroke-width="1"/>
<rect x="647.3" y="573.6" width="8.7" height="50.7" fill="#5b8fcc" stroke="#1c2636" stroke-width="1"/>
<rect x="658.5" y="585.6" width="8.7" height="38.7" fill="url(#orpat)" stroke="#3e3222" stroke-width="1"/>
<rect x="670.0" y="563.8" width="8.7" height="60.5" fill="#56b080" stroke="#1c3326" stroke-width="1"/>
<circle cx="610.4" cy="554.4" r="2.2" fill="#5a8fd8" stroke="#1e1e1e" stroke-width="0.7"/>
<circle cx="613.0" cy="554.4" r="2.2" fill="#5a8fd8" stroke="#1e1e1e" stroke-width="0.7"/>
<circle cx="615.6" cy="554.4" r="2.2" fill="#5a8fd8" stroke="#1e1e1e" stroke-width="0.7"/>
<line x1="624.5500000000001" y1="554.9642461278158" x2="624.5500000000001" y2="565.5077538721841" stroke="#111" stroke-width="0.9" />
<line x1="622.5500000000001" y1="554.9642461278158" x2="626.5500000000001" y2="554.9642461278158" stroke="#111" stroke-width="0.9" />
<line x1="622.5500000000001" y1="565.5077538721841" x2="626.5500000000001" y2="565.5077538721841" stroke="#111" stroke-width="0.9" />
<circle cx="624.1" cy="550.4" r="2.2" fill="#f1b468" stroke="#1e1e1e" stroke-width="0.7"/>
<circle cx="621.5" cy="558.4" r="2.2" fill="#f1b468" stroke="#1e1e1e" stroke-width="0.7"/>
<circle cx="626.9" cy="558.4" r="2.2" fill="#f1b468" stroke="#1e1e1e" stroke-width="0.7"/>
<circle cx="622.5" cy="562.3" r="2.2" fill="#f1b468" stroke="#1e1e1e" stroke-width="0.7"/>
<circle cx="626.5" cy="563.3" r="2.2" fill="#f1b468" stroke="#1e1e1e" stroke-width="0.7"/>
<circle cx="624.1" cy="567.3" r="2.2" fill="#f1b468" stroke="#1e1e1e" stroke-width="0.7"/>
<line x1="635.85" y1="545.1542340247927" x2="635.85" y2="561.2377659752071" stroke="#111" stroke-width="0.9" />
<line x1="633.85" y1="545.1542340247927" x2="637.85" y2="545.1542340247927" stroke="#111" stroke-width="0.9" />
<line x1="633.85" y1="561.2377659752071" x2="637.85" y2="561.2377659752071" stroke="#111" stroke-width="0.9" />
<circle cx="635.4" cy="538.9" r="2.2" fill="#5cc48f" stroke="#1e1e1e" stroke-width="0.7"/>
<circle cx="636.0" cy="546.9" r="2.2" fill="#5cc48f" stroke="#1e1e1e" stroke-width="0.7"/>
<circle cx="633.0" cy="555.4" r="2.2" fill="#5cc48f" stroke="#1e1e1e" stroke-width="0.7"/>
<circle cx="638.4" cy="556.0" r="2.2" fill="#5cc48f" stroke="#1e1e1e" stroke-width="0.7"/>
<circle cx="633.4" cy="561.3" r="2.2" fill="#5cc48f" stroke="#1e1e1e" stroke-width="0.7"/>
<circle cx="637.4" cy="561.3" r="2.2" fill="#5cc48f" stroke="#1e1e1e" stroke-width="0.7"/>
<line x1="651.65" y1="569.5925680334985" x2="651.65" y2="577.6314319665014" stroke="#111" stroke-width="0.9" />
<line x1="649.65" y1="569.5925680334985" x2="653.65" y2="569.5925680334985" stroke="#111" stroke-width="0.9" />
<line x1="649.65" y1="577.6314319665014" x2="653.65" y2="577.6314319665014" stroke="#111" stroke-width="0.9" />
<circle cx="648.7" cy="567.9" r="2.2" fill="#5a8fd8" stroke="#1e1e1e" stroke-width="0.7"/>
<circle cx="652.9" cy="570.3" r="2.2" fill="#5a8fd8" stroke="#1e1e1e" stroke-width="0.7"/>
<circle cx="650.3" cy="572.7" r="2.2" fill="#5a8fd8" stroke="#1e1e1e" stroke-width="0.7"/>
<circle cx="654.2" cy="574.2" r="2.2" fill="#5a8fd8" stroke="#1e1e1e" stroke-width="0.7"/>
<circle cx="649.3" cy="578.2" r="2.2" fill="#5a8fd8" stroke="#1e1e1e" stroke-width="0.7"/>
<circle cx="652.3" cy="579.2" r="2.2" fill="#5a8fd8" stroke="#1e1e1e" stroke-width="0.7"/>
<line x1="662.85" y1="582.4338277224538" x2="662.85" y2="588.7261722775461" stroke="#111" stroke-width="0.9" />
<line x1="660.85" y1="582.4338277224538" x2="664.85" y2="582.4338277224538" stroke="#111" stroke-width="0.9" />
<line x1="660.85" y1="588.7261722775461" x2="664.85" y2="588.7261722775461" stroke="#111" stroke-width="0.9" />
<circle cx="660.2" cy="581.2" r="2.2" fill="#f1b468" stroke="#1e1e1e" stroke-width="0.7"/>
<circle cx="663.2" cy="582.2" r="2.2" fill="#f1b468" stroke="#1e1e1e" stroke-width="0.7"/>
<circle cx="662.2" cy="586.2" r="2.2" fill="#f1b468" stroke="#1e1e1e" stroke-width="0.7"/>
<circle cx="665.2" cy="588.1" r="2.2" fill="#f1b468" stroke="#1e1e1e" stroke-width="0.7"/>
<circle cx="659.2" cy="589.1" r="2.2" fill="#f1b468" stroke="#1e1e1e" stroke-width="0.7"/>
<line x1="674.35" y1="559.5267368648111" x2="674.35" y2="567.9852631351888" stroke="#111" stroke-width="0.9" />
<line x1="672.35" y1="559.5267368648111" x2="676.35" y2="559.5267368648111" stroke="#111" stroke-width="0.9" />
<line x1="672.35" y1="567.9852631351888" x2="676.35" y2="567.9852631351888" stroke="#111" stroke-width="0.9" />
<circle cx="671.7" cy="556.8" r="2.2" fill="#5cc48f" stroke="#1e1e1e" stroke-width="0.7"/>
<circle cx="676.5" cy="560.4" r="2.2" fill="#5cc48f" stroke="#1e1e1e" stroke-width="0.7"/>
<circle cx="673.1" cy="563.3" r="2.2" fill="#5cc48f" stroke="#1e1e1e" stroke-width="0.7"/>
<circle cx="676.5" cy="565.3" r="2.2" fill="#5cc48f" stroke="#1e1e1e" stroke-width="0.7"/>
<circle cx="672.1" cy="568.3" r="2.2" fill="#5cc48f" stroke="#1e1e1e" stroke-width="0.7"/>
<circle cx="675.1" cy="568.7" r="2.2" fill="#5cc48f" stroke="#1e1e1e" stroke-width="0.7"/>
<line x1="604.2" y1="518.1999999999999" x2="604.2" y2="624.9" stroke="#1a1a1a" stroke-width="1.2" />
<line x1="603.6" y1="624.3" x2="683.2" y2="624.3" stroke="#1a1a1a" stroke-width="1.2" />
<line x1="596.3" y1="624.3" x2="604.2" y2="624.3" stroke="#1a1a1a" stroke-width="1.1" />
<text x="593.3" y="628.1999999999999" font-size="10.5" text-anchor="end" font-weight="bold" fill="#151515" >0.0</text>
<line x1="596.3" y1="589.0999999999999" x2="604.2" y2="589.0999999999999" stroke="#1a1a1a" stroke-width="1.1" />
<text x="593.3" y="592.9999999999999" font-size="10.5" text-anchor="end" font-weight="bold" fill="#151515" >0.5</text>
<line x1="596.3" y1="553.9" x2="604.2" y2="553.9" stroke="#1a1a1a" stroke-width="1.1" />
<text x="593.3" y="557.8" font-size="10.5" text-anchor="end" font-weight="bold" fill="#151515" >1.0</text>
<line x1="596.3" y1="518.6999999999999" x2="604.2" y2="518.6999999999999" stroke="#1a1a1a" stroke-width="1.1" />
<text x="593.3" y="522.5999999999999" font-size="10.5" text-anchor="end" font-weight="bold" fill="#151515" >1.5</text>
<line x1="624.5" y1="624.3" x2="624.5" y2="632.0999999999999" stroke="#1a1a1a" stroke-width="1.1" />
<text x="624.5" y="644.4" font-size="10.5" text-anchor="middle" font-weight="bold" fill="#151515" >sham</text>
<line x1="662.2" y1="624.3" x2="662.2" y2="632.0999999999999" stroke="#1a1a1a" stroke-width="1.1" />
<text x="662.2" y="644.4" font-size="10.5" text-anchor="middle" font-weight="bold" fill="#151515" >BDL</text>
<text transform="translate(569.6,566.8) rotate(-90)" font-size="10.8" text-anchor="middle" font-weight="bold" fill="#151515">Rel. DLST protein levels</text>
<path d="M612.6,542.5 L612.6,491.9 L651.7,491.9 L651.7,500.4" fill="none" stroke="#4a4a4a" stroke-width="1.1"/>
<text x="631.9" y="487.9" font-size="9.4" text-anchor="middle" font-weight="bold" fill="#151515" >&lt; 0.0001</text>
<path d="M651.7,522.2 L651.7,514.7 L674.1,514.7 L674.1,522.2" fill="none" stroke="#4a4a4a" stroke-width="1.1"/>
<text x="663.2" y="510.7" font-size="9.4" text-anchor="middle" font-weight="bold" fill="#151515" >0.0288</text>
<path d="M651.7,556.0 L651.7,537.5 L662.8,537.5 L662.8,569.9" fill="none" stroke="#4a4a4a" stroke-width="1.1"/>
<text x="657.7" y="533.6" font-size="9.4" text-anchor="middle" font-weight="bold" fill="#151515" >0.0129</text>
<rect x="474.4" y="738.0" width="8.7" height="70.3" fill="#5b8fcc" stroke="#1c2636" stroke-width="1"/>
<rect x="485.9" y="741.5" width="8.7" height="66.8" fill="url(#orpat)" stroke="#3e3222" stroke-width="1"/>
<rect x="497.1" y="741.5" width="8.7" height="66.8" fill="#56b080" stroke="#1c3326" stroke-width="1"/>
<rect x="513.2" y="752.1" width="8.7" height="56.2" fill="#5b8fcc" stroke="#1c2636" stroke-width="1"/>
<rect x="524.5" y="763.3" width="8.7" height="45.0" fill="url(#orpat)" stroke="#3e3222" stroke-width="1"/>
<rect x="535.8" y="740.1" width="8.7" height="68.2" fill="#56b080" stroke="#1c3326" stroke-width="1"/>
<circle cx="476.2" cy="738.2" r="2.2" fill="#5a8fd8" stroke="#1e1e1e" stroke-width="0.7"/>
<circle cx="478.8" cy="738.2" r="2.2" fill="#5a8fd8" stroke="#1e1e1e" stroke-width="0.7"/>
<circle cx="481.4" cy="738.2" r="2.2" fill="#5a8fd8" stroke="#1e1e1e" stroke-width="0.7"/>
<line x1="490.25" y1="736.6196223616331" x2="490.25" y2="746.4103776383669" stroke="#111" stroke-width="0.9" />
<line x1="488.25" y1="736.6196223616331" x2="492.25" y2="736.6196223616331" stroke="#111" stroke-width="0.9" />
<line x1="488.25" y1="746.4103776383669" x2="492.25" y2="746.4103776383669" stroke="#111" stroke-width="0.9" />
<circle cx="491.8" cy="733.2" r="2.2" fill="#f1b468" stroke="#1e1e1e" stroke-width="0.7"/>
<circle cx="487.5" cy="734.9" r="2.2" fill="#f1b468" stroke="#1e1e1e" stroke-width="0.7"/>
<circle cx="493.6" cy="738.2" r="2.2" fill="#f1b468" stroke="#1e1e1e" stroke-width="0.7"/>
<circle cx="487.9" cy="739.7" r="2.2" fill="#f1b468" stroke="#1e1e1e" stroke-width="0.7"/>
<circle cx="492.3" cy="742.5" r="2.2" fill="#f1b468" stroke="#1e1e1e" stroke-width="0.7"/>
<circle cx="489.2" cy="748.0" r="2.2" fill="#f1b468" stroke="#1e1e1e" stroke-width="0.7"/>
<line x1="501.45000000000005" y1="737.1687832543694" x2="501.45000000000005" y2="745.8612167456306" stroke="#111" stroke-width="0.9" />
<line x1="499.45000000000005" y1="737.1687832543694" x2="503.45000000000005" y2="737.1687832543694" stroke="#111" stroke-width="0.9" />
<line x1="499.45000000000005" y1="745.8612167456306" x2="503.45000000000005" y2="745.8612167456306" stroke="#111" stroke-width="0.9" />
<circle cx="501.0" cy="732.3" r="2.2" fill="#5cc48f" stroke="#1e1e1e" stroke-width="0.7"/>
<circle cx="498.4" cy="738.8" r="2.2" fill="#5cc48f" stroke="#1e1e1e" stroke-width="0.7"/>
<circle cx="503.8" cy="739.3" r="2.2" fill="#5cc48f" stroke="#1e1e1e" stroke-width="0.7"/>
<circle cx="498.8" cy="744.1" r="2.2" fill="#5cc48f" stroke="#1e1e1e" stroke-width="0.7"/>
<circle cx="503.2" cy="744.1" r="2.2" fill="#5cc48f" stroke="#1e1e1e" stroke-width="0.7"/>
<line x1="517.5500000000001" y1="745.7598236356255" x2="517.5500000000001" y2="758.3601763643744" stroke="#111" stroke-width="0.9" />
<line x1="515.5500000000001" y1="745.7598236356255" x2="519.5500000000001" y2="745.7598236356255" stroke="#111" stroke-width="0.9" />
<line x1="515.5500000000001" y1="758.3601763643744" x2="519.5500000000001" y2="758.3601763643744" stroke="#111" stroke-width="0.9" />
<circle cx="517.5" cy="739.7" r="2.2" fill="#5a8fd8" stroke="#1e1e1e" stroke-width="0.7"/>
<circle cx="515.8" cy="751.9" r="2.2" fill="#5a8fd8" stroke="#1e1e1e" stroke-width="0.7"/>
<circle cx="520.2" cy="751.2" r="2.2" fill="#5a8fd8" stroke="#1e1e1e" stroke-width="0.7"/>
<circle cx="515.4" cy="756.7" r="2.2" fill="#5a8fd8" stroke="#1e1e1e" stroke-width="0.7"/>
<circle cx="519.7" cy="756.2" r="2.2" fill="#5a8fd8" stroke="#1e1e1e" stroke-width="0.7"/>
<circle cx="517.5" cy="758.9" r="2.2" fill="#5a8fd8" stroke="#1e1e1e" stroke-width="0.7"/>
<line x1="528.85" y1="758.2914717627073" x2="528.85" y2="768.3245282372927" stroke="#111" stroke-width="0.9" />
<line x1="526.85" y1="758.2914717627073" x2="530.85" y2="758.2914717627073" stroke="#111" stroke-width="0.9" />
<line x1="526.85" y1="768.3245282372927" x2="530.85" y2="768.3245282372927" stroke="#111" stroke-width="0.9" />
<circle cx="528.4" cy="754.0" r="2.2" fill="#f1b468" stroke="#1e1e1e" stroke-width="0.7"/>
<circle cx="526.7" cy="762.1" r="2.2" fill="#f1b468" stroke="#1e1e1e" stroke-width="0.7"/>
<circle cx="531.0" cy="763.2" r="2.2" fill="#f1b468" stroke="#1e1e1e" stroke-width="0.7"/>
<circle cx="525.6" cy="765.4" r="2.2" fill="#f1b468" stroke="#1e1e1e" stroke-width="0.7"/>
<circle cx="529.9" cy="767.6" r="2.2" fill="#f1b468" stroke="#1e1e1e" stroke-width="0.7"/>
<circle cx="527.8" cy="769.7" r="2.2" fill="#f1b468" stroke="#1e1e1e" stroke-width="0.7"/>
<line x1="540.15" y1="730.2040068708308" x2="540.15" y2="750.0139931291691" stroke="#111" stroke-width="0.9" />
<line x1="538.15" y1="730.2040068708308" x2="542.15" y2="730.2040068708308" stroke="#111" stroke-width="0.9" />
<line x1="538.15" y1="750.0139931291691" x2="542.15" y2="750.0139931291691" stroke="#111" stroke-width="0.9" />
<circle cx="539.7" cy="726.2" r="2.2" fill="#5cc48f" stroke="#1e1e1e" stroke-width="0.7"/>
<circle cx="539.3" cy="732.7" r="2.2" fill="#5cc48f" stroke="#1e1e1e" stroke-width="0.7"/>
<circle cx="536.5" cy="739.3" r="2.2" fill="#5cc48f" stroke="#1e1e1e" stroke-width="0.7"/>
<circle cx="542.4" cy="739.3" r="2.2" fill="#5cc48f" stroke="#1e1e1e" stroke-width="0.7"/>
<circle cx="538.0" cy="749.1" r="2.2" fill="#5cc48f" stroke="#1e1e1e" stroke-width="0.7"/>
<circle cx="540.2" cy="756.2" r="2.2" fill="#5cc48f" stroke="#1e1e1e" stroke-width="0.7"/>
<line x1="470.1" y1="702.3499999999999" x2="470.1" y2="808.9" stroke="#1a1a1a" stroke-width="1.2" />
<line x1="469.5" y1="808.3" x2="548.5" y2="808.3" stroke="#1a1a1a" stroke-width="1.2" />
<line x1="462.5" y1="808.3" x2="470.1" y2="808.3" stroke="#1a1a1a" stroke-width="1.1" />
<text x="459.5" y="812.1999999999999" font-size="10.5" text-anchor="end" font-weight="bold" fill="#151515" >0.0</text>
<line x1="462.5" y1="773.15" x2="470.1" y2="773.15" stroke="#1a1a1a" stroke-width="1.1" />
<text x="459.5" y="777.05" font-size="10.5" text-anchor="end" font-weight="bold" fill="#151515" >0.5</text>
<line x1="462.5" y1="738.0" x2="470.1" y2="738.0" stroke="#1a1a1a" stroke-width="1.1" />
<text x="459.5" y="741.9" font-size="10.5" text-anchor="end" font-weight="bold" fill="#151515" >1.0</text>
<line x1="462.5" y1="702.8499999999999" x2="470.1" y2="702.8499999999999" stroke="#1a1a1a" stroke-width="1.1" />
<text x="459.5" y="706.7499999999999" font-size="10.5" text-anchor="end" font-weight="bold" fill="#151515" >1.5</text>
<line x1="489.7" y1="808.3" x2="489.7" y2="816.0999999999999" stroke="#1a1a1a" stroke-width="1.1" />
<text x="489.7" y="828.1" font-size="10.5" text-anchor="middle" font-weight="bold" fill="#151515" >sham</text>
<line x1="527.8" y1="808.3" x2="527.8" y2="816.0999999999999" stroke="#1a1a1a" stroke-width="1.1" />
<text x="527.8" y="828.1" font-size="10.5" text-anchor="middle" font-weight="bold" fill="#151515" >BDL</text>
<text transform="translate(435.8,754.0) rotate(-90)" font-size="10.8" text-anchor="middle" font-weight="bold" fill="#151515">Rel. LIAS protein levels</text>
<path d="M478.3,726.6 L478.3,670.7 L517.5,670.7 L517.5,679.4" fill="none" stroke="#4a4a4a" stroke-width="1.1"/>
<text x="497.9" y="667.0" font-size="9.4" text-anchor="middle" font-weight="bold" fill="#151515" >0.0009</text>
<path d="M517.5,702.3 L517.5,694.6 L539.7,694.6 L539.7,702.3" fill="none" stroke="#4a4a4a" stroke-width="1.1"/>
<text x="528.0" y="691.4" font-size="9.4" text-anchor="middle" font-weight="bold" fill="#151515" >0.0037</text>
<path d="M517.5,726.2 L517.5,719.2 L528.2,719.2 L528.2,742.5" fill="none" stroke="#4a4a4a" stroke-width="1.1"/>
<text x="522.4" y="715.8" font-size="9.4" text-anchor="middle" font-weight="bold" fill="#151515" >0.0074</text>
<rect x="607.9" y="737.9" width="8.7" height="70.6" fill="#5b8fcc" stroke="#1c2636" stroke-width="1"/>
<rect x="619.2" y="741.4" width="8.7" height="67.1" fill="url(#orpat)" stroke="#3e3222" stroke-width="1"/>
<rect x="630.6" y="735.8" width="8.7" height="72.7" fill="#56b080" stroke="#1c3326" stroke-width="1"/>
<rect x="646.9" y="754.8" width="8.7" height="53.7" fill="#5b8fcc" stroke="#1c2636" stroke-width="1"/>
<rect x="658.2" y="764.7" width="8.7" height="43.8" fill="url(#orpat)" stroke="#3e3222" stroke-width="1"/>
<rect x="669.8" y="734.4" width="8.7" height="74.1" fill="#56b080" stroke="#1c3326" stroke-width="1"/>
<circle cx="609.7" cy="738.2" r="2.2" fill="#5a8fd8" stroke="#1e1e1e" stroke-width="0.7"/>
<circle cx="612.3" cy="738.2" r="2.2" fill="#5a8fd8" stroke="#1e1e1e" stroke-width="0.7"/>
<circle cx="614.9" cy="738.2" r="2.2" fill="#5a8fd8" stroke="#1e1e1e" stroke-width="0.7"/>
<line x1="623.5500000000001" y1="735.8500507768141" x2="623.5500000000001" y2="747.009949223186" stroke="#111" stroke-width="0.9" />
<line x1="621.5500000000001" y1="735.8500507768141" x2="625.5500000000001" y2="735.8500507768141" stroke="#111" stroke-width="0.9" />
<line x1="621.5500000000001" y1="747.009949223186" x2="625.5500000000001" y2="747.009949223186" stroke="#111" stroke-width="0.9" />
<circle cx="620.8" cy="735.4" r="2.2" fill="#f1b468" stroke="#1e1e1e" stroke-width="0.7"/>
<circle cx="624.7" cy="736.0" r="2.2" fill="#f1b468" stroke="#1e1e1e" stroke-width="0.7"/>
<circle cx="626.9" cy="739.3" r="2.2" fill="#f1b468" stroke="#1e1e1e" stroke-width="0.7"/>
<circle cx="621.4" cy="741.5" r="2.2" fill="#f1b468" stroke="#1e1e1e" stroke-width="0.7"/>
<circle cx="624.3" cy="745.8" r="2.2" fill="#f1b468" stroke="#1e1e1e" stroke-width="0.7"/>
<circle cx="622.5" cy="751.3" r="2.2" fill="#f1b468" stroke="#1e1e1e" stroke-width="0.7"/>
<line x1="634.95" y1="732.1532184475288" x2="634.95" y2="739.4107815524712" stroke="#111" stroke-width="0.9" />
<line x1="632.95" y1="732.1532184475288" x2="636.95" y2="732.1532184475288" stroke="#111" stroke-width="0.9" />
<line x1="632.95" y1="739.4107815524712" x2="636.95" y2="739.4107815524712" stroke="#111" stroke-width="0.9" />
<circle cx="632.3" cy="731.7" r="2.2" fill="#5cc48f" stroke="#1e1e1e" stroke-width="0.7"/>
<circle cx="636.7" cy="733.8" r="2.2" fill="#5cc48f" stroke="#1e1e1e" stroke-width="0.7"/>
<circle cx="634.5" cy="737.1" r="2.2" fill="#5cc48f" stroke="#1e1e1e" stroke-width="0.7"/>
<circle cx="637.3" cy="738.9" r="2.2" fill="#5cc48f" stroke="#1e1e1e" stroke-width="0.7"/>
<circle cx="632.3" cy="739.7" r="2.2" fill="#5cc48f" stroke="#1e1e1e" stroke-width="0.7"/>
<circle cx="635.6" cy="742.5" r="2.2" fill="#5cc48f" stroke="#1e1e1e" stroke-width="0.7"/>
<line x1="651.25" y1="750.1539395881645" x2="651.25" y2="759.5340604118356" stroke="#111" stroke-width="0.9" />
<line x1="649.25" y1="750.1539395881645" x2="653.25" y2="750.1539395881645" stroke="#111" stroke-width="0.9" />
<line x1="649.25" y1="759.5340604118356" x2="653.25" y2="759.5340604118356" stroke="#111" stroke-width="0.9" />
<circle cx="650.4" cy="745.8" r="2.2" fill="#5a8fd8" stroke="#1e1e1e" stroke-width="0.7"/>
<circle cx="648.2" cy="753.4" r="2.2" fill="#5a8fd8" stroke="#1e1e1e" stroke-width="0.7"/>
<circle cx="653.4" cy="754.1" r="2.2" fill="#5a8fd8" stroke="#1e1e1e" stroke-width="0.7"/>
<circle cx="648.6" cy="756.7" r="2.2" fill="#5a8fd8" stroke="#1e1e1e" stroke-width="0.7"/>
<circle cx="653.0" cy="757.1" r="2.2" fill="#5a8fd8" stroke="#1e1e1e" stroke-width="0.7"/>
<circle cx="650.8" cy="761.1" r="2.2" fill="#5a8fd8" stroke="#1e1e1e" stroke-width="0.7"/>
<line x1="662.5500000000001" y1="758.7019454588152" x2="662.5500000000001" y2="770.7540545411847" stroke="#111" stroke-width="0.9" />
<line x1="660.5500000000001" y1="758.7019454588152" x2="664.5500000000001" y2="758.7019454588152" stroke="#111" stroke-width="0.9" />
<line x1="660.5500000000001" y1="770.7540545411847" x2="664.5500000000001" y2="770.7540545411847" stroke="#111" stroke-width="0.9" />
<circle cx="661.7" cy="754.5" r="2.2" fill="#f1b468" stroke="#1e1e1e" stroke-width="0.7"/>
<circle cx="663.9" cy="762.8" r="2.2" fill="#f1b468" stroke="#1e1e1e" stroke-width="0.7"/>
<circle cx="660.6" cy="765.4" r="2.2" fill="#f1b468" stroke="#1e1e1e" stroke-width="0.7"/>
<circle cx="665.0" cy="767.6" r="2.2" fill="#f1b468" stroke="#1e1e1e" stroke-width="0.7"/>
<circle cx="661.3" cy="770.9" r="2.2" fill="#f1b468" stroke="#1e1e1e" stroke-width="0.7"/>
<circle cx="663.9" cy="773.0" r="2.2" fill="#f1b468" stroke="#1e1e1e" stroke-width="0.7"/>
<line x1="674.15" y1="726.8032415570912" x2="674.15" y2="741.9367584429089" stroke="#111" stroke-width="0.9" />
<line x1="672.15" y1="726.8032415570912" x2="676.15" y2="726.8032415570912" stroke="#111" stroke-width="0.9" />
<line x1="672.15" y1="741.9367584429089" x2="676.15" y2="741.9367584429089" stroke="#111" stroke-width="0.9" />
<circle cx="672.6" cy="726.2" r="2.2" fill="#5cc48f" stroke="#1e1e1e" stroke-width="0.7"/>
<circle cx="675.9" cy="728.0" r="2.2" fill="#5cc48f" stroke="#1e1e1e" stroke-width="0.7"/>
<circle cx="670.4" cy="730.6" r="2.2" fill="#5cc48f" stroke="#1e1e1e" stroke-width="0.7"/>
<circle cx="673.7" cy="734.9" r="2.2" fill="#5cc48f" stroke="#1e1e1e" stroke-width="0.7"/>
<circle cx="672.6" cy="742.5" r="2.2" fill="#5cc48f" stroke="#1e1e1e" stroke-width="0.7"/>
<circle cx="673.0" cy="746.9" r="2.2" fill="#5cc48f" stroke="#1e1e1e" stroke-width="0.7"/>
<line x1="603.3" y1="702.1" x2="603.3" y2="809.1" stroke="#1a1a1a" stroke-width="1.2" />
<line x1="602.6999999999999" y1="808.5" x2="681.7" y2="808.5" stroke="#1a1a1a" stroke-width="1.2" />
<line x1="595.3" y1="808.5" x2="603.3" y2="808.5" stroke="#1a1a1a" stroke-width="1.1" />
<text x="592.3" y="812.4" font-size="10.5" text-anchor="end" font-weight="bold" fill="#151515" >0.0</text>
<line x1="595.3" y1="773.2" x2="603.3" y2="773.2" stroke="#1a1a1a" stroke-width="1.1" />
<text x="592.3" y="777.1" font-size="10.5" text-anchor="end" font-weight="bold" fill="#151515" >0.5</text>
<line x1="595.3" y1="737.9" x2="603.3" y2="737.9" stroke="#1a1a1a" stroke-width="1.1" />
<text x="592.3" y="741.8" font-size="10.5" text-anchor="end" font-weight="bold" fill="#151515" >1.0</text>
<line x1="595.3" y1="702.6" x2="603.3" y2="702.6" stroke="#1a1a1a" stroke-width="1.1" />
<text x="592.3" y="706.5" font-size="10.5" text-anchor="end" font-weight="bold" fill="#151515" >1.5</text>
<line x1="623.6" y1="808.5" x2="623.6" y2="816.3" stroke="#1a1a1a" stroke-width="1.1" />
<text x="623.6" y="828.1" font-size="10.5" text-anchor="middle" font-weight="bold" fill="#151515" >sham</text>
<line x1="661.7" y1="808.5" x2="661.7" y2="816.3" stroke="#1a1a1a" stroke-width="1.1" />
<text x="661.7" y="828.1" font-size="10.5" text-anchor="middle" font-weight="bold" fill="#151515" >BDL</text>
<text transform="translate(568.6,752.6) rotate(-90)" font-size="10.8" text-anchor="middle" font-weight="bold" fill="#151515">Rel. FDX1 protein levels</text>
<path d="M612.1,725.1 L612.1,668.5 L650.8,668.5 L650.8,678.3" fill="none" stroke="#4a4a4a" stroke-width="1.1"/>
<text x="630.6" y="664.8" font-size="9.4" text-anchor="middle" font-weight="bold" fill="#151515" >0.0007</text>
<path d="M650.8,704.0 L650.8,694.6 L673.2,694.6 L673.2,704.0" fill="none" stroke="#4a4a4a" stroke-width="1.1"/>
<text x="662.8" y="691.0" font-size="9.4" text-anchor="middle" font-weight="bold" fill="#151515" >&lt; 0.0001</text>
<path d="M650.8,733.8 L650.8,724.5 L661.7,724.5 L661.7,742.5" fill="none" stroke="#4a4a4a" stroke-width="1.1"/>
<text x="655.8" y="717.1" font-size="9.4" text-anchor="middle" font-weight="bold" fill="#151515" >0.0255</text>
</svg>
</body></html>
